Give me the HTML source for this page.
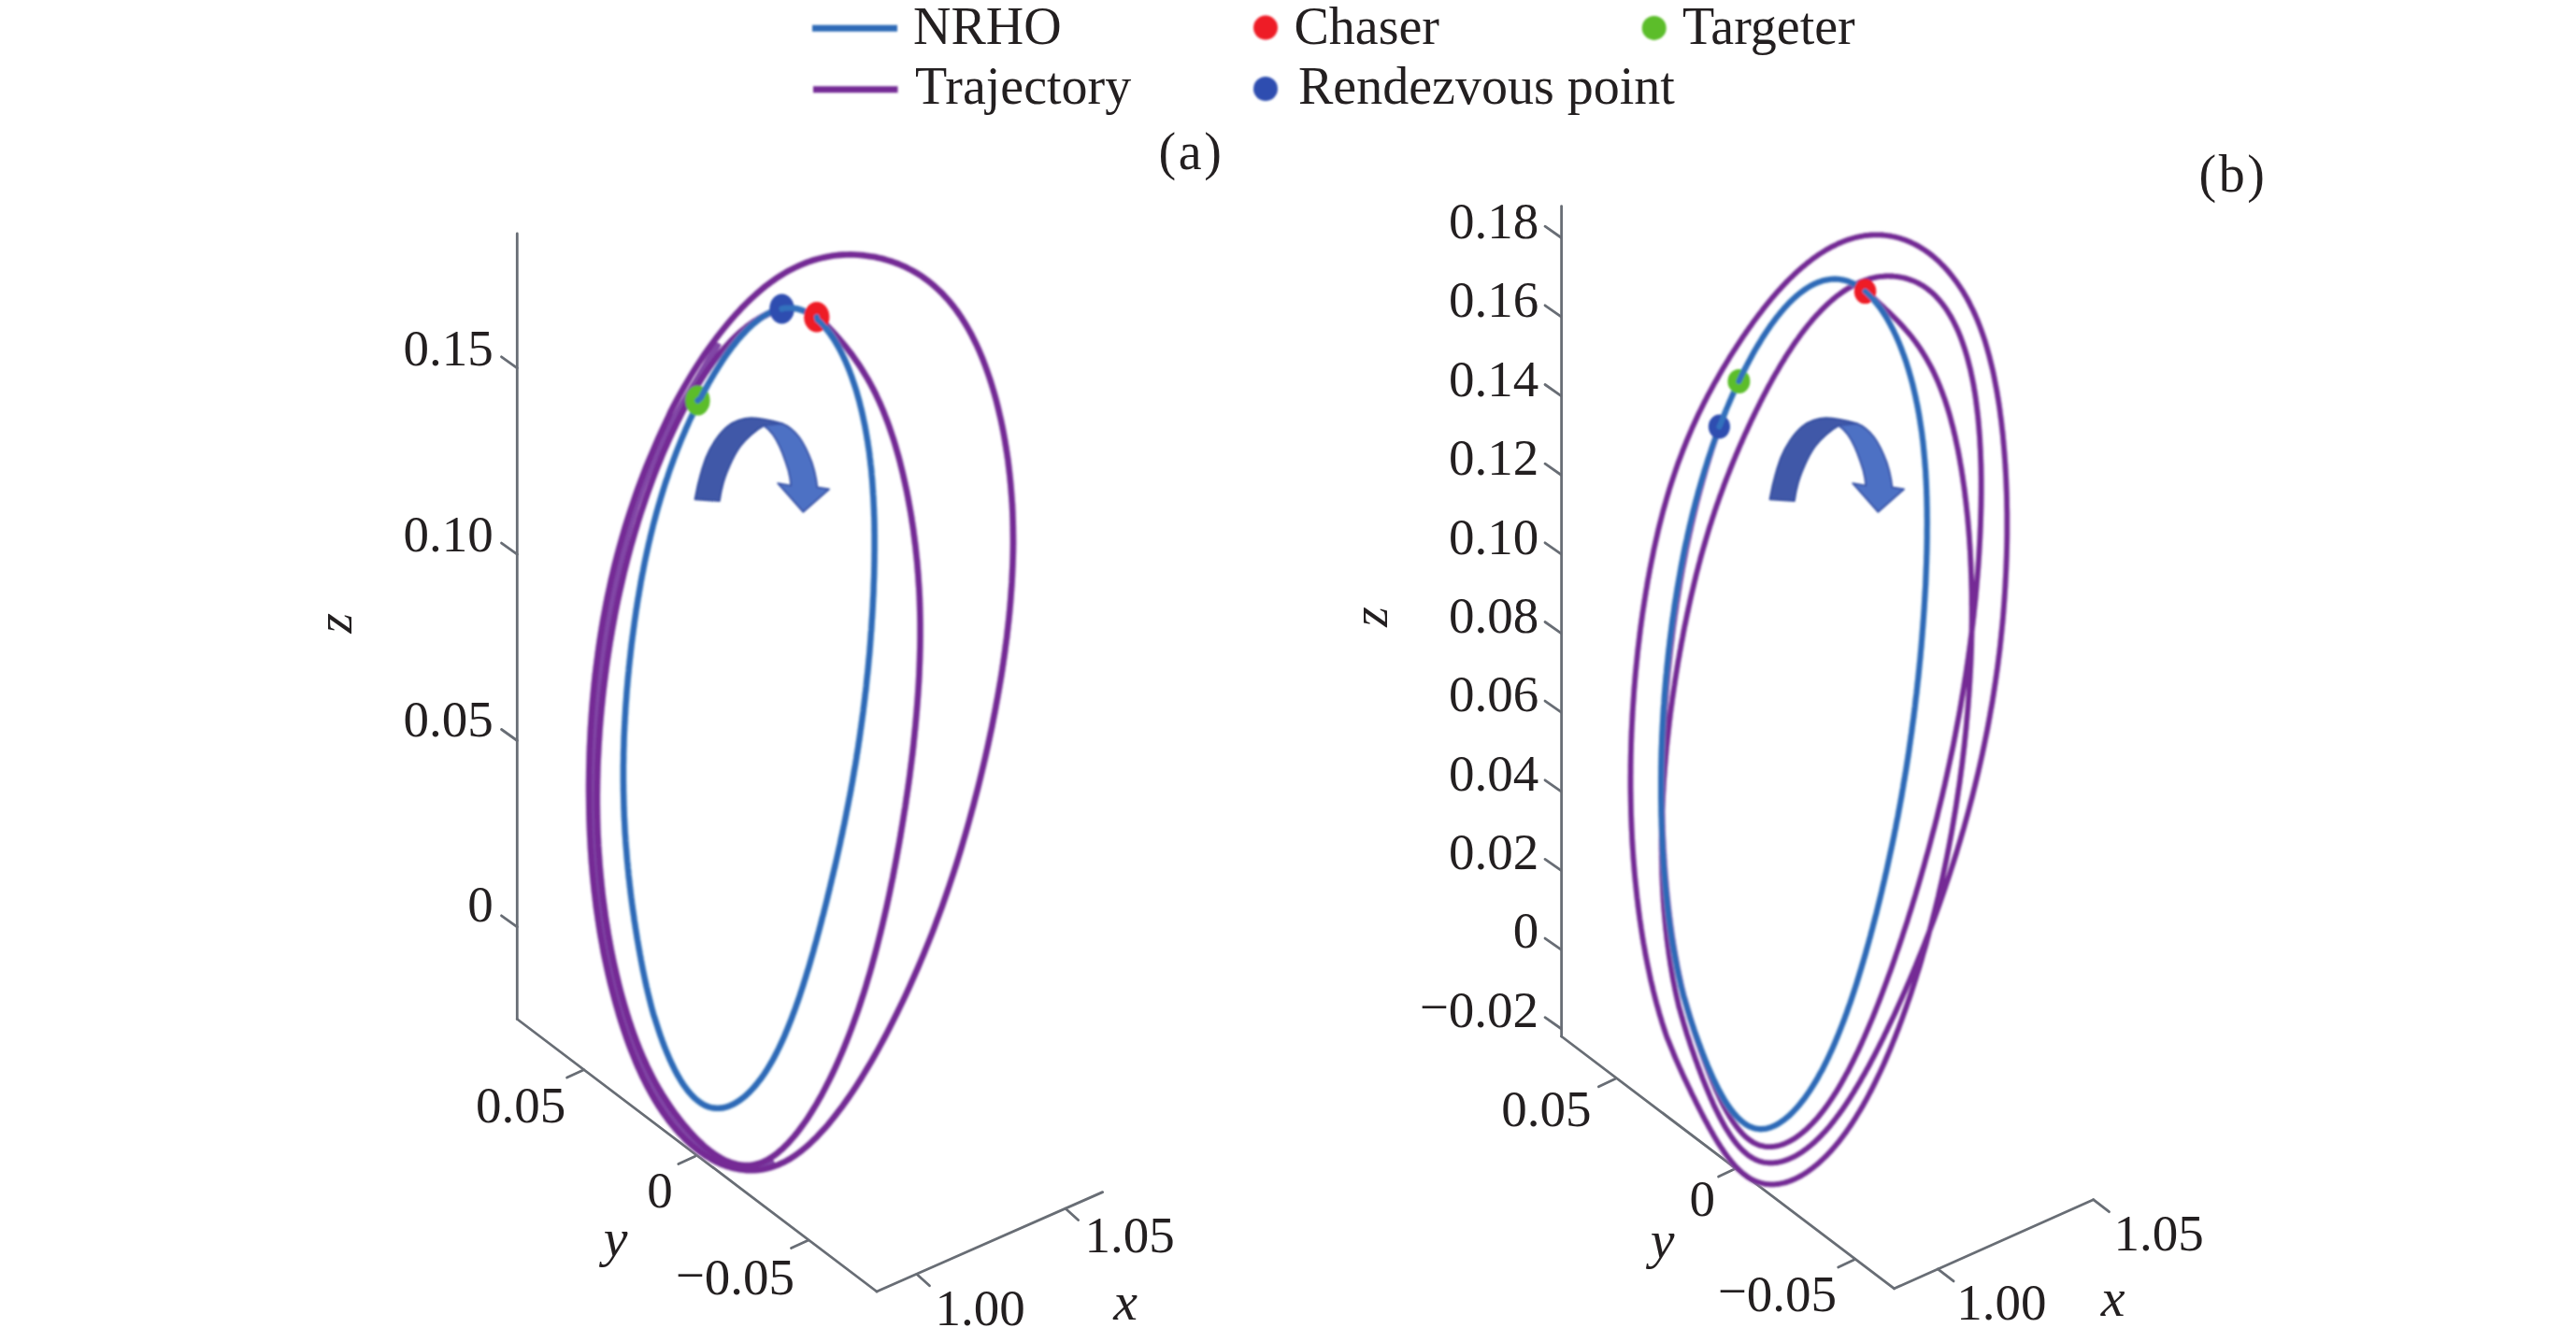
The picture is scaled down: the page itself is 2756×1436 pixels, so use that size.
<!DOCTYPE html>
<html lang="en">
<head>
<meta charset="utf-8">
<title>NRHO rendezvous trajectories</title>
<style>
html,body{margin:0;padding:0;background:#fff;}
body{width:2756px;height:1436px;overflow:hidden;}
svg{display:block;}
svg text{font-family:"Liberation Serif",serif;fill:#231f20;}
</style>
</head>
<body>
<svg width="2756" height="1436" viewBox="0 0 2756 1436" font-size="56">
<defs><filter id="soft" x="-5%" y="-5%" width="110%" height="110%"><feGaussianBlur stdDeviation="1.0"/></filter><filter id="soft2" x="-10%" y="-10%" width="120%" height="120%"><feGaussianBlur stdDeviation="9"/></filter><filter id="soft3" filterUnits="userSpaceOnUse" x="0" y="0" width="2756" height="1436"><feGaussianBlur stdDeviation="0.75"/></filter></defs>
<rect width="2756" height="1436" fill="#ffffff"/>
<g id="axis-lines" filter="url(#soft3)">
<line x1="553.3" y1="250.0" x2="553.3" y2="1090.5" stroke="#686d74" stroke-width="2.8" stroke-linecap="round"/>
<line x1="553.3" y1="1090.5" x2="938.0" y2="1382.0" stroke="#686d74" stroke-width="2.8" stroke-linecap="round"/>
<line x1="938.0" y1="1382.0" x2="1179.6" y2="1275.6" stroke="#686d74" stroke-width="2.8" stroke-linecap="round"/>
<line x1="536.5" y1="381.8" x2="553.3" y2="393.8" stroke="#686d74" stroke-width="2.8" stroke-linecap="round"/>
<line x1="536.5" y1="581.1" x2="553.3" y2="593.1" stroke="#686d74" stroke-width="2.8" stroke-linecap="round"/>
<line x1="536.5" y1="780.5" x2="553.3" y2="792.5" stroke="#686d74" stroke-width="2.8" stroke-linecap="round"/>
<line x1="536.5" y1="979.8" x2="553.3" y2="991.8" stroke="#686d74" stroke-width="2.8" stroke-linecap="round"/>
<line x1="606.6" y1="1153.1" x2="624.6" y2="1144.8" stroke="#686d74" stroke-width="2.8" stroke-linecap="round"/>
<line x1="725.8" y1="1245.5" x2="743.8" y2="1237.2" stroke="#686d74" stroke-width="2.8" stroke-linecap="round"/>
<line x1="846.5" y1="1335.5" x2="864.5" y2="1327.2" stroke="#686d74" stroke-width="2.8" stroke-linecap="round"/>
<line x1="980.9" y1="1363.5" x2="994.5" y2="1375.8" stroke="#686d74" stroke-width="2.8" stroke-linecap="round"/>
<line x1="1140.0" y1="1293.2" x2="1153.6" y2="1305.5" stroke="#686d74" stroke-width="2.8" stroke-linecap="round"/>
<line x1="1670.6" y1="220.6" x2="1670.6" y2="1109.0" stroke="#686d74" stroke-width="2.8" stroke-linecap="round"/>
<line x1="1670.6" y1="1109.0" x2="2026.6" y2="1378.8" stroke="#686d74" stroke-width="2.8" stroke-linecap="round"/>
<line x1="2026.6" y1="1378.8" x2="2239.6" y2="1283.7" stroke="#686d74" stroke-width="2.8" stroke-linecap="round"/>
<line x1="1653.0" y1="242.2" x2="1670.6" y2="254.5" stroke="#686d74" stroke-width="2.8" stroke-linecap="round"/>
<line x1="1653.0" y1="326.8" x2="1670.6" y2="339.1" stroke="#686d74" stroke-width="2.8" stroke-linecap="round"/>
<line x1="1653.0" y1="411.5" x2="1670.6" y2="423.8" stroke="#686d74" stroke-width="2.8" stroke-linecap="round"/>
<line x1="1653.0" y1="496.2" x2="1670.6" y2="508.5" stroke="#686d74" stroke-width="2.8" stroke-linecap="round"/>
<line x1="1653.0" y1="580.8" x2="1670.6" y2="593.1" stroke="#686d74" stroke-width="2.8" stroke-linecap="round"/>
<line x1="1653.0" y1="665.5" x2="1670.6" y2="677.8" stroke="#686d74" stroke-width="2.8" stroke-linecap="round"/>
<line x1="1653.0" y1="750.1" x2="1670.6" y2="762.4" stroke="#686d74" stroke-width="2.8" stroke-linecap="round"/>
<line x1="1653.0" y1="834.8" x2="1670.6" y2="847.1" stroke="#686d74" stroke-width="2.8" stroke-linecap="round"/>
<line x1="1653.0" y1="919.4" x2="1670.6" y2="931.7" stroke="#686d74" stroke-width="2.8" stroke-linecap="round"/>
<line x1="1653.0" y1="1004.1" x2="1670.6" y2="1016.4" stroke="#686d74" stroke-width="2.8" stroke-linecap="round"/>
<line x1="1653.0" y1="1088.7" x2="1670.6" y2="1101.0" stroke="#686d74" stroke-width="2.8" stroke-linecap="round"/>
<line x1="1710.4" y1="1162.8" x2="1728.4" y2="1154.3" stroke="#686d74" stroke-width="2.8" stroke-linecap="round"/>
<line x1="1838.6" y1="1259.1" x2="1856.6" y2="1250.6" stroke="#686d74" stroke-width="2.8" stroke-linecap="round"/>
<line x1="1966.7" y1="1356.0" x2="1984.7" y2="1347.5" stroke="#686d74" stroke-width="2.8" stroke-linecap="round"/>
<line x1="2073.2" y1="1357.9" x2="2090.1" y2="1370.9" stroke="#686d74" stroke-width="2.8" stroke-linecap="round"/>
<line x1="2239.6" y1="1283.7" x2="2256.5" y2="1296.7" stroke="#686d74" stroke-width="2.8" stroke-linecap="round"/>
</g>
<g id="legend">
<g filter="url(#soft)">
<line x1="869" y1="30.3" x2="960" y2="30.3" stroke="#2f6bb7" stroke-width="7"/>
<line x1="870" y1="95.8" x2="960.5" y2="95.8" stroke="#742c95" stroke-width="7"/>
<circle cx="1354" cy="29.6" r="13" fill="#ee1c25"/>
<circle cx="1354" cy="95" r="13" fill="#2f4eb0"/>
<circle cx="1769.7" cy="29.9" r="13" fill="#5bbd2b"/>
</g>
<text x="977.0" y="46.7" text-anchor="start">NRHO</text>
<text x="979.0" y="111.0" text-anchor="start">Trajectory</text>
<text x="1384.5" y="46.7" text-anchor="start">Chaser</text>
<text x="1389.0" y="111.0" text-anchor="start">Rendezvous point</text>
<text x="1800.0" y="46.7" text-anchor="start">Targeter</text>
<text x="1239.5" y="181.0" text-anchor="start" letter-spacing="2.6">(a)</text>
<text x="2352.5" y="204.8" text-anchor="start" letter-spacing="2.6">(b)</text>
</g>
<g id="axes-a" font-size="55">
<text x="527.8" y="391.2" text-anchor="end">0.15</text>
<text x="527.8" y="589.6" text-anchor="end">0.10</text>
<text x="527.8" y="788.0" text-anchor="end">0.05</text>
<text x="527.8" y="986.4" text-anchor="end">0</text>
<text x="605.3" y="1200.8" text-anchor="end">0.05</text>
<text x="719.8" y="1292.3" text-anchor="end">0</text>
<text x="850.0" y="1385.2" text-anchor="end"><tspan dy="-2.3">−</tspan><tspan dy="2.3">0.05</tspan></text>
<text x="1000.6" y="1418.0" text-anchor="start">1.00</text>
<text x="1160.6" y="1339.8" text-anchor="start">1.05</text>
<text x="1204.0" y="1412.0" text-anchor="middle" font-style="italic" font-size="58">x</text>
<text x="658.5" y="1343.5" text-anchor="middle" font-style="italic" font-size="58">y</text>
<text transform="translate(375.5,666.7) rotate(-90)" text-anchor="middle" font-style="italic">z</text>
</g>
<g id="axes-b" font-size="55">
<text x="1646.2" y="255.1" text-anchor="end">0.18</text>
<text x="1646.2" y="339.4" text-anchor="end">0.16</text>
<text x="1646.2" y="423.8" text-anchor="end">0.14</text>
<text x="1646.2" y="508.1" text-anchor="end">0.12</text>
<text x="1646.2" y="592.5" text-anchor="end">0.10</text>
<text x="1646.2" y="676.9" text-anchor="end">0.08</text>
<text x="1646.2" y="761.2" text-anchor="end">0.06</text>
<text x="1646.2" y="845.5" text-anchor="end">0.04</text>
<text x="1646.2" y="929.9" text-anchor="end">0.02</text>
<text x="1646.2" y="1014.2" text-anchor="end">0</text>
<text x="1646.1" y="1098.6" text-anchor="end"><tspan dy="-2.3">−</tspan><tspan dy="2.3">0.02</tspan></text>
<text x="1702.6" y="1205.3" text-anchor="end">0.05</text>
<text x="1835.0" y="1301.3" text-anchor="end">0</text>
<text x="1965.0" y="1402.6" text-anchor="end"><tspan dy="-2.3">−</tspan><tspan dy="2.3">0.05</tspan></text>
<text x="2093.3" y="1411.8" text-anchor="start">1.00</text>
<text x="2261.5" y="1337.5" text-anchor="start">1.05</text>
<text x="2260.5" y="1408.0" text-anchor="middle" font-style="italic" font-size="58">x</text>
<text x="1778.5" y="1346.0" text-anchor="middle" font-style="italic" font-size="58">y</text>
<text transform="translate(1483.6,660) rotate(-90)" text-anchor="middle" font-style="italic">z</text>
</g>
<g id="curves-a" filter="url(#soft)">
<path d="M717.5,440.6 L721.0,433.8 L724.6,427.1 L728.2,420.6 L731.9,414.1 L735.6,407.8 L739.3,401.6 L743.1,395.5 L746.9,389.5 L750.8,383.7 L754.6,377.9 L758.5,372.4 L762.5,366.9 L766.4,361.6 L770.4,356.5 L774.4,351.5 L778.4,346.6 L782.4,341.9 L786.4,337.3 L790.5,332.9 L794.5,328.6 L798.6,324.5 L802.6,320.6 L806.7,316.8 L810.7,313.2 L814.8,309.7 L818.8,306.4 L822.9,303.3 L826.9,300.4 L831.0,297.6 L835.0,295.0 L839.0,292.5 L843.0,290.2 L847.0,288.1 L851.0,286.1 L855.0,284.2 L859.0,282.5 L863.0,280.9 L866.9,279.5 L870.9,278.2 L874.8,277.1 L878.8,276.1 L882.7,275.2 L886.6,274.4 L890.5,273.8 L894.4,273.3 L898.3,272.9 L902.1,272.6 L906.0,272.5 L909.8,272.4 L913.6,272.5 L917.4,272.7 L921.2,273.0 L925.0,273.4 L928.7,273.9 L932.5,274.5 L936.2,275.1 L939.9,275.9 L943.6,276.8 L947.3,277.8 L950.9,278.9 L954.6,280.0 L958.2,281.3 L961.8,282.7 L965.3,284.2 L968.8,285.8 L972.3,287.6 L975.8,289.4 L979.3,291.4 L982.7,293.4 L986.1,295.6 L989.4,298.0 L992.7,300.4 L996.0,303.0 L999.2,305.7 L1002.4,308.6 L1005.6,311.6 L1008.7,314.7 L1011.7,318.0 L1014.8,321.4 L1017.7,324.9 L1020.7,328.6 L1023.6,332.5 L1026.4,336.5 L1029.2,340.7 L1031.9,345.0 L1034.6,349.5 L1037.2,354.1 L1039.8,358.9 L1042.3,363.9 L1044.8,369.0 L1047.2,374.3 L1049.5,379.7 L1051.8,385.3 L1054.0,391.1 L1056.1,397.0 L1058.2,403.0 L1060.2,409.1 L1062.1,415.4 L1064.0,421.9 L1065.8,428.4 L1067.5,435.1 L1069.1,441.9 L1070.7,448.8 L1072.2,455.8 L1073.6,462.9 L1074.9,470.1 L1076.1,477.4 L1077.3,484.9 L1078.4,492.4 L1079.3,500.0 L1080.2,507.7 L1081.0,515.4 L1081.7,523.3 L1082.3,531.2 L1082.9,539.2 L1083.3,547.3 L1083.6,555.4 L1083.8,563.6 L1083.9,571.9 L1084.0,580.2 L1083.9,588.6 L1083.7,597.0 L1083.4,605.4 L1083.0,613.9 L1082.6,622.5 L1082.0,631.0 L1081.4,639.6 L1080.7,648.2 L1079.9,656.9 L1079.0,665.5 L1078.0,674.2 L1077.0,682.9 L1075.8,691.6 L1074.7,700.3 L1073.4,709.0 L1072.1,717.7 L1070.7,726.4 L1069.2,735.1 L1067.7,743.8 L1066.1,752.4 L1064.5,761.1 L1062.8,769.7 L1061.1,778.3 L1059.3,786.8 L1057.5,795.3 L1055.6,803.8 L1053.7,812.3 L1051.7,820.7 L1049.7,829.0 L1047.7,837.3 L1045.6,845.6 L1043.5,853.7 L1041.4,861.9 L1039.2,869.9 L1037.0,878.0 L1034.8,885.9 L1032.5,893.8 L1030.2,901.7 L1027.9,909.5 L1025.5,917.3 L1023.1,925.0 L1020.6,932.7 L1018.1,940.3 L1015.6,947.8 L1013.0,955.4 L1010.4,962.9 L1007.8,970.3 L1005.1,977.7 L1002.3,985.0 L999.6,992.4 L996.8,999.6 L993.9,1006.9 L991.0,1014.0 L988.1,1021.2 L985.1,1028.3 L982.1,1035.4 L979.0,1042.4 L975.9,1049.4 L972.8,1056.4 L969.6,1063.4 L966.3,1070.3 L963.0,1077.2 L959.7,1084.0 L956.3,1090.8 L952.9,1097.6 L949.5,1104.3 L946.0,1110.9 L942.4,1117.5 L938.9,1124.0 L935.3,1130.4 L931.6,1136.8 L927.9,1143.0 L924.2,1149.1 L920.5,1155.2 L916.8,1161.1 L913.0,1166.8 L909.2,1172.5 L905.3,1178.0 L901.5,1183.4 L897.6,1188.6 L893.7,1193.6 L889.8,1198.5 L885.9,1203.3 L882.0,1207.8 L878.0,1212.1 L874.1,1216.3 L870.1,1220.2 L866.2,1224.0 L862.2,1227.5 L858.2,1230.8 L854.2,1233.9 L850.2,1236.7 L846.3,1239.3 L842.3,1241.7 L838.3,1243.8 L834.3,1245.6 L830.4,1247.2 L826.4,1248.6 L822.5,1249.8 L818.5,1250.7 L814.6,1251.4 L810.7,1251.9 L806.8,1252.2 L802.9,1252.3 L799.1,1252.1 L795.3,1251.8 L791.5,1251.3 L787.7,1250.6 L784.0,1249.8 L780.2,1248.7 L776.5,1247.5 L772.9,1246.1 L769.3,1244.6 L765.7,1242.9 L762.2,1241.0 L758.7,1239.0 L755.2,1236.9 L751.8,1234.6 L748.4,1232.2 L745.1,1229.6 L741.8,1226.9 L738.6,1224.2 L735.4,1221.3 L732.3,1218.3 L729.3,1215.1 L726.2,1211.9 L723.3,1208.6 L720.4,1205.2 L717.6,1201.7 L714.8,1198.1 L712.1,1194.4 L709.4,1190.6 L706.8,1186.7 L704.2,1182.8 L701.7,1178.7 L699.2,1174.5 L696.8,1170.3 L694.4,1166.0 L692.1,1161.6 L689.8,1157.1 L687.5,1152.6 L685.4,1147.9 L683.2,1143.2 L681.1,1138.4 L679.1,1133.6 L677.1,1128.6 L675.1,1123.6 L673.2,1118.5 L671.3,1113.4 L669.5,1108.2 L667.7,1102.9 L665.9,1097.6 L664.2,1092.2 L662.5,1086.7 L660.9,1081.2 L659.3,1075.6 L657.7,1069.9 L656.2,1064.2 L654.7,1058.5 L653.2,1052.7 L651.8,1046.8 L650.4,1040.8 L649.1,1034.8 L647.8,1028.8 L646.5,1022.7 L645.3,1016.5 L644.2,1010.2 L643.0,1003.9 L641.9,997.5 L640.9,991.1 L639.9,984.6 L639.0,978.0 L638.0,971.3 L637.2,964.6 L636.4,957.8 L635.6,951.0 L634.9,944.1 L634.2,937.1 L633.6,930.0 L633.0,922.9 L632.5,915.7 L632.0,908.4 L631.6,901.1 L631.2,893.6 L630.9,886.1 L630.6,878.6 L630.4,870.9 L630.3,863.2 L630.2,855.4 L630.1,847.5 L630.1,839.6 L630.2,831.6 L630.3,823.5 L630.5,815.4 L630.7,807.3 L631.0,799.0 L631.4,790.8 L631.8,782.5 L632.3,774.1 L632.9,765.7 L633.5,757.3 L634.2,748.9 L635.0,740.4 L635.8,731.9 L636.7,723.4 L637.7,714.9 L638.8,706.3 L639.9,697.8 L641.1,689.2 L642.4,680.7 L643.8,672.1 L645.2,663.6 L646.8,655.1 L648.4,646.5 L650.1,638.0 L651.9,629.6 L653.7,621.1 L655.7,612.7 L657.7,604.3 L659.9,595.9 L662.1,587.5 L664.4,579.3 L666.8,571.0 L669.2,562.8 L671.8,554.6 L674.4,546.5 L677.1,538.5 L679.8,530.5 L682.6,522.6 L685.5,514.8 L688.5,507.0 L691.5,499.3 L694.6,491.7 L697.8,484.2 L701.0,476.7 L704.2,469.3 L707.5,462.1 L710.9,454.9 L714.3,447.8Z" fill="none" stroke="#d9b6e6" stroke-width="8.8" stroke-opacity="0.4" stroke-linecap="round" stroke-linejoin="round"/>
<path d="M874.0,337.7 L876.7,340.3 L879.3,343.0 L882.0,345.6 L884.6,348.3 L887.2,351.0 L889.8,353.7 L892.3,356.5 L894.9,359.3 L897.4,362.2 L899.9,365.1 L902.4,368.1 L904.9,371.1 L907.3,374.2 L909.8,377.4 L912.2,380.6 L914.5,383.9 L916.9,387.3 L919.2,390.7 L921.5,394.2 L923.8,397.9 L926.0,401.6 L928.3,405.4 L930.5,409.3 L932.6,413.3 L934.8,417.4 L936.9,421.6 L938.9,426.0 L941.0,430.4 L943.0,435.0 L945.0,439.7 L946.9,444.6 L948.8,449.5 L950.7,454.6 L952.5,459.8 L954.3,465.2 L956.1,470.6 L957.8,476.2 L959.4,481.9 L961.1,487.7 L962.7,493.7 L964.2,499.7 L965.7,505.8 L967.1,512.0 L968.5,518.4 L969.9,524.8 L971.2,531.3 L972.4,537.9 L973.6,544.5 L974.8,551.3 L975.8,558.1 L976.9,565.0 L977.8,572.0 L978.7,579.0 L979.6,586.1 L980.3,593.3 L981.1,600.5 L981.7,607.8 L982.3,615.1 L982.8,622.5 L983.3,629.9 L983.7,637.3 L984.0,644.8 L984.2,652.4 L984.4,660.0 L984.5,667.6 L984.5,675.2 L984.5,682.8 L984.4,690.5 L984.2,698.2 L984.0,706.0 L983.7,713.7 L983.4,721.5 L983.0,729.3 L982.5,737.1 L982.0,744.9 L981.4,752.7 L980.8,760.6 L980.1,768.4 L979.4,776.3 L978.6,784.1 L977.8,792.0 L977.0,799.8 L976.1,807.7 L975.1,815.6 L974.1,823.4 L973.1,831.3 L972.0,839.1 L970.9,846.9 L969.7,854.7 L968.6,862.5 L967.3,870.3 L966.1,878.1 L964.8,885.8 L963.5,893.6 L962.2,901.3 L960.8,908.9 L959.4,916.6 L958.0,924.2 L956.5,931.8 L955.1,939.4 L953.5,946.9 L952.0,954.4 L950.4,961.9 L948.8,969.3 L947.1,976.7 L945.4,984.0 L943.7,991.3 L941.9,998.6 L940.1,1005.8 L938.3,1012.9 L936.4,1020.1 L934.5,1027.1 L932.6,1034.1 L930.6,1041.1 L928.5,1048.0 L926.5,1054.9 L924.4,1061.7 L922.2,1068.4 L920.0,1075.1 L917.8,1081.7 L915.5,1088.2 L913.2,1094.7 L910.8,1101.1 L908.4,1107.4 L905.9,1113.7 L903.4,1119.9 L900.9,1126.0 L898.3,1132.0 L895.7,1137.9 L893.0,1143.8 L890.3,1149.5 L887.6,1155.1 L884.8,1160.6 L882.0,1166.0 L879.2,1171.3 L876.3,1176.4 L873.5,1181.4 L870.5,1186.3 L867.6,1191.0 L864.7,1195.6 L861.7,1200.0 L858.7,1204.2 L855.7,1208.3 L852.7,1212.2 L849.7,1215.9 L846.6,1219.4 L843.6,1222.8 L840.5,1225.9 L837.5,1228.9 L834.4,1231.6 L831.4,1234.2 L828.3,1236.5 L825.2,1238.6 L822.2,1240.4 L819.1,1242.1 L816.0,1243.5 L813.0,1244.6 L810.0,1245.5 L806.9,1246.2 L803.9,1246.7 L800.9,1247.0 L797.9,1247.0 L794.9,1246.9 L791.9,1246.6 L789.0,1246.0 L786.0,1245.3 L783.1,1244.5 L780.2,1243.4 L777.3,1242.2 L774.4,1240.9 L771.6,1239.4 L768.7,1237.7 L765.9,1235.9 L763.1,1234.0 L760.3,1232.0 L757.6,1229.8 L754.8,1227.6 L752.1,1225.2 L749.5,1222.7 L746.8,1220.2 L744.2,1217.5 L741.6,1214.8 L739.0,1212.0 L736.5,1209.2 L734.0,1206.2 L731.5,1203.3 L729.1,1200.3 L726.7,1197.2 L724.3,1194.1 L721.9,1191.0 L719.6,1187.8 L717.3,1184.5 L715.1,1181.2 L712.9,1177.8 L710.7,1174.4 L708.5,1171.0 L706.4,1167.4 L704.3,1163.8 L702.2,1160.2 L700.2,1156.5 L698.2,1152.7 L696.2,1148.8 L694.3,1144.9 L692.3,1140.9 L690.5,1136.8 L688.6,1132.7 L686.8,1128.5 L684.9,1124.1 L683.2,1119.8 L681.4,1115.3 L679.7,1110.7 L678.0,1106.1 L676.3,1101.4 L674.7,1096.5 L673.0,1091.6 L671.4,1086.6 L669.9,1081.5 L668.3,1076.3 L666.8,1071.0 L665.3,1065.6 L663.8,1060.1 L662.4,1054.5 L661.0,1048.9 L659.6,1043.1 L658.3,1037.3 L656.9,1031.3 L655.7,1025.3 L654.4,1019.2 L653.2,1013.0 L652.1,1006.7 L650.9,1000.4 L649.9,993.9 L648.8,987.4 L647.8,980.9 L646.9,974.2 L646.0,967.5 L645.1,960.7 L644.3,953.9 L643.6,947.0 L642.9,940.0 L642.2,932.9 L641.6,925.8 L641.1,918.7 L640.6,911.4 L640.1,904.2 L639.8,896.8 L639.4,889.5 L639.2,882.0 L639.0,874.5 L638.9,867.0 L638.8,859.5 L638.8,851.8 L638.9,844.2 L639.0,836.5 L639.2,828.8 L639.4,821.0 L639.7,813.3 L640.1,805.5 L640.5,797.7 L641.0,789.9 L641.5,782.0 L642.1,774.2 L642.8,766.3 L643.5,758.5 L644.3,750.6 L645.1,742.8 L646.0,735.0 L647.0,727.1 L648.0,719.3 L649.0,711.5 L650.1,703.7 L651.3,696.0 L652.5,688.3 L653.8,680.6 L655.1,672.9 L656.5,665.3 L657.9,657.7 L659.4,650.1 L660.9,642.6 L662.5,635.2 L664.2,627.7 L665.9,620.4 L667.6,613.1 L669.4,605.9 L671.2,598.7 L673.1,591.6 L675.0,584.5 L677.0,577.5 L679.0,570.6 L681.1,563.7 L683.1,556.9 L685.3,550.1 L687.5,543.5 L689.7,536.9 L691.9,530.4 L694.2,523.9 L696.5,517.6 L698.8,511.3 L701.2,505.1 L703.6,499.0 L706.1,492.9 L708.5,487.0 L711.0,481.1 L713.6,475.3 L716.1,469.6 L718.7,464.0 L721.3,458.5 L723.9,453.1 L726.6,447.8 L729.2,442.6 L731.9,437.4 L734.6,432.4 L737.3,427.5 L740.1,422.7 L742.8,418.0 L745.6,413.4 L748.4,408.9 L751.2,404.5 L754.0,400.2 L756.9,396.1 L759.7,392.0 L762.6,388.1 L765.5,384.3 L768.4,380.6 L771.3,377.0 L774.2,373.5 L777.2,370.2 L780.2,366.9 L783.1,363.8 L786.1,360.9 L789.2,358.0 L792.2,355.3 L795.2,352.7 L798.3,350.2 L801.3,347.9 L804.4,345.7 L807.5,343.6 L810.6,341.7 L813.7,339.9 L816.9,338.2 L820.0,336.7 L823.1,335.3" fill="none" stroke="#d9b6e6" stroke-width="8.8" stroke-opacity="0.4" stroke-linecap="round" stroke-linejoin="round"/>
<path d="M828.0,1242.4 L824.8,1244.0 L821.7,1245.3 L818.6,1246.5 L815.5,1247.5 L812.5,1248.3 L809.5,1248.9 L806.6,1249.4 L803.7,1249.8 L800.8,1249.9 L797.9,1249.9 L795.1,1249.8 L792.3,1249.5 L789.5,1249.1 L786.8,1248.6 L784.1,1247.9 L781.5,1247.1 L778.8,1246.2 L776.2,1245.2 L773.6,1244.0 L771.1,1242.8 L768.6,1241.5 L766.1,1240.0 L763.6,1238.5 L761.2,1236.9 L758.8,1235.2 L756.4,1233.4 L754.0,1231.6 L751.7,1229.6 L749.4,1227.7 L747.1,1225.6 L744.9,1223.5 L742.6,1221.4 L740.4,1219.2 L738.2,1217.0 L736.1,1214.7 L733.9,1212.4 L731.8,1210.1 L729.7,1207.7 L727.6,1205.3 L725.6,1202.9 L723.6,1200.4 L721.5,1197.9 L719.5,1195.4 L717.6,1192.8 L715.6,1190.1 L713.7,1187.4 L711.8,1184.7 L709.9,1181.9 L708.0,1179.0 L706.1,1176.1 L704.3,1173.2 L702.4,1170.1 L700.6,1167.0 L698.8,1163.8 L697.0,1160.6 L695.2,1157.3 L693.5,1153.9 L691.8,1150.4 L690.0,1146.8 L688.3,1143.2 L686.6,1139.5 L684.9,1135.7 L683.3,1131.8 L681.6,1127.8 L679.9,1123.7 L678.3,1119.5 L676.7,1115.2 L675.1,1110.8 L673.5,1106.3 L671.9,1101.7 L670.3,1097.0 L668.7,1092.2 L667.1,1087.3 L665.6,1082.2 L664.0,1077.1 L662.5,1071.8 L661.0,1066.4 L659.5,1060.9 L658.1,1055.3 L656.6,1049.6 L655.2,1043.8 L653.8,1037.8 L652.5,1031.8 L651.2,1025.7 L649.9,1019.4 L648.6,1013.0 L647.4,1006.6 L646.3,1000.0 L645.1,993.3 L644.1,986.5 L643.0,979.6 L642.0,972.6 L641.1,965.5 L640.2,958.3 L639.4,951.0 L638.6,943.5 L637.9,936.0 L637.2,928.4 L636.6,920.7 L636.1,912.8 L635.6,904.9 L635.3,896.9 L634.9,888.7 L634.7,880.5 L634.5,872.2 L634.4,863.7 L634.4,855.2 L634.5,846.6 L634.6,837.9 L634.8,829.0 L635.1,820.2 L635.5,811.2 L636.0,802.2 L636.5,793.1 L637.1,784.0 L637.8,774.8 L638.5,765.6 L639.4,756.4 L640.2,747.2 L641.2,738.0 L642.2,728.8 L643.3,719.6 L644.5,710.4 L645.7,701.2 L647.0,692.1 L648.4,683.0 L649.8,673.9 L651.3,664.9 L652.8,656.0 L654.4,647.2 L656.1,638.4 L657.8,629.7 L659.5,621.2 L661.4,612.7 L663.2,604.4 L665.2,596.1 L667.1,588.0 L669.2,580.1 L671.2,572.2 L673.4,564.6 L675.5,557.1 L677.8,549.8 L680.0,542.6 L682.3,535.7 L684.7,528.9 L687.0,522.3 L689.5,515.8 L691.9,509.6 L694.4,503.5 L696.9,497.5 L699.4,491.7 L702.0,486.1 L704.6,480.6 L707.2,475.2 L709.8,469.9 L712.4,464.8 L715.0,459.8 L717.6,454.8 L720.2,450.0 L722.8,445.3 L725.5,440.7 L728.1,436.2 L730.7,431.7 L733.3,427.4 L735.8,423.0 L738.4,418.8 L740.9,414.6 L743.4,410.5 L745.9,406.4 L748.3,402.4 L750.7,398.4 L753.1,394.4 L755.5,390.5 L757.7,386.5 L760.0,382.6 L762.2,378.7 L764.4,374.8 L766.5,370.9 L768.5,367.0" fill="none" stroke="#8146a6" stroke-width="7.5" stroke-linecap="butt" stroke-linejoin="round"/>
<path d="M717.5,440.6 L721.0,433.8 L724.6,427.1 L728.2,420.6 L731.9,414.1 L735.6,407.8 L739.3,401.6 L743.1,395.5 L746.9,389.5 L750.8,383.7 L754.6,377.9 L758.5,372.4 L762.5,366.9 L766.4,361.6 L770.4,356.5 L774.4,351.5 L778.4,346.6 L782.4,341.9 L786.4,337.3 L790.5,332.9 L794.5,328.6 L798.6,324.5 L802.6,320.6 L806.7,316.8 L810.7,313.2 L814.8,309.7 L818.8,306.4 L822.9,303.3 L826.9,300.4 L831.0,297.6 L835.0,295.0 L839.0,292.5 L843.0,290.2 L847.0,288.1 L851.0,286.1 L855.0,284.2 L859.0,282.5 L863.0,280.9 L866.9,279.5 L870.9,278.2 L874.8,277.1 L878.8,276.1 L882.7,275.2 L886.6,274.4 L890.5,273.8 L894.4,273.3 L898.3,272.9 L902.1,272.6 L906.0,272.5 L909.8,272.4 L913.6,272.5 L917.4,272.7 L921.2,273.0 L925.0,273.4 L928.7,273.9 L932.5,274.5 L936.2,275.1 L939.9,275.9 L943.6,276.8 L947.3,277.8 L950.9,278.9 L954.6,280.0 L958.2,281.3 L961.8,282.7 L965.3,284.2 L968.8,285.8 L972.3,287.6 L975.8,289.4 L979.3,291.4 L982.7,293.4 L986.1,295.6 L989.4,298.0 L992.7,300.4 L996.0,303.0 L999.2,305.7 L1002.4,308.6 L1005.6,311.6 L1008.7,314.7 L1011.7,318.0 L1014.8,321.4 L1017.7,324.9 L1020.7,328.6 L1023.6,332.5 L1026.4,336.5 L1029.2,340.7 L1031.9,345.0 L1034.6,349.5 L1037.2,354.1 L1039.8,358.9 L1042.3,363.9 L1044.8,369.0 L1047.2,374.3 L1049.5,379.7 L1051.8,385.3 L1054.0,391.1 L1056.1,397.0 L1058.2,403.0 L1060.2,409.1 L1062.1,415.4 L1064.0,421.9 L1065.8,428.4 L1067.5,435.1 L1069.1,441.9 L1070.7,448.8 L1072.2,455.8 L1073.6,462.9 L1074.9,470.1 L1076.1,477.4 L1077.3,484.9 L1078.4,492.4 L1079.3,500.0 L1080.2,507.7 L1081.0,515.4 L1081.7,523.3 L1082.3,531.2 L1082.9,539.2 L1083.3,547.3 L1083.6,555.4 L1083.8,563.6 L1083.9,571.9 L1084.0,580.2 L1083.9,588.6 L1083.7,597.0 L1083.4,605.4 L1083.0,613.9 L1082.6,622.5 L1082.0,631.0 L1081.4,639.6 L1080.7,648.2 L1079.9,656.9 L1079.0,665.5 L1078.0,674.2 L1077.0,682.9 L1075.8,691.6 L1074.7,700.3 L1073.4,709.0 L1072.1,717.7 L1070.7,726.4 L1069.2,735.1 L1067.7,743.8 L1066.1,752.4 L1064.5,761.1 L1062.8,769.7 L1061.1,778.3 L1059.3,786.8 L1057.5,795.3 L1055.6,803.8 L1053.7,812.3 L1051.7,820.7 L1049.7,829.0 L1047.7,837.3 L1045.6,845.6 L1043.5,853.7 L1041.4,861.9 L1039.2,869.9 L1037.0,878.0 L1034.8,885.9 L1032.5,893.8 L1030.2,901.7 L1027.9,909.5 L1025.5,917.3 L1023.1,925.0 L1020.6,932.7 L1018.1,940.3 L1015.6,947.8 L1013.0,955.4 L1010.4,962.9 L1007.8,970.3 L1005.1,977.7 L1002.3,985.0 L999.6,992.4 L996.8,999.6 L993.9,1006.9 L991.0,1014.0 L988.1,1021.2 L985.1,1028.3 L982.1,1035.4 L979.0,1042.4 L975.9,1049.4 L972.8,1056.4 L969.6,1063.4 L966.3,1070.3 L963.0,1077.2 L959.7,1084.0 L956.3,1090.8 L952.9,1097.6 L949.5,1104.3 L946.0,1110.9 L942.4,1117.5 L938.9,1124.0 L935.3,1130.4 L931.6,1136.8 L927.9,1143.0 L924.2,1149.1 L920.5,1155.2 L916.8,1161.1 L913.0,1166.8 L909.2,1172.5 L905.3,1178.0 L901.5,1183.4 L897.6,1188.6 L893.7,1193.6 L889.8,1198.5 L885.9,1203.3 L882.0,1207.8 L878.0,1212.1 L874.1,1216.3 L870.1,1220.2 L866.2,1224.0 L862.2,1227.5 L858.2,1230.8 L854.2,1233.9 L850.2,1236.7 L846.3,1239.3 L842.3,1241.7 L838.3,1243.8 L834.3,1245.6 L830.4,1247.2 L826.4,1248.6 L822.5,1249.8 L818.5,1250.7 L814.6,1251.4 L810.7,1251.9 L806.8,1252.2 L802.9,1252.3 L799.1,1252.1 L795.3,1251.8 L791.5,1251.3 L787.7,1250.6 L784.0,1249.8 L780.2,1248.7 L776.5,1247.5 L772.9,1246.1 L769.3,1244.6 L765.7,1242.9 L762.2,1241.0 L758.7,1239.0 L755.2,1236.9 L751.8,1234.6 L748.4,1232.2 L745.1,1229.6 L741.8,1226.9 L738.6,1224.2 L735.4,1221.3 L732.3,1218.3 L729.3,1215.1 L726.2,1211.9 L723.3,1208.6 L720.4,1205.2 L717.6,1201.7 L714.8,1198.1 L712.1,1194.4 L709.4,1190.6 L706.8,1186.7 L704.2,1182.8 L701.7,1178.7 L699.2,1174.5 L696.8,1170.3 L694.4,1166.0 L692.1,1161.6 L689.8,1157.1 L687.5,1152.6 L685.4,1147.9 L683.2,1143.2 L681.1,1138.4 L679.1,1133.6 L677.1,1128.6 L675.1,1123.6 L673.2,1118.5 L671.3,1113.4 L669.5,1108.2 L667.7,1102.9 L665.9,1097.6 L664.2,1092.2 L662.5,1086.7 L660.9,1081.2 L659.3,1075.6 L657.7,1069.9 L656.2,1064.2 L654.7,1058.5 L653.2,1052.7 L651.8,1046.8 L650.4,1040.8 L649.1,1034.8 L647.8,1028.8 L646.5,1022.7 L645.3,1016.5 L644.2,1010.2 L643.0,1003.9 L641.9,997.5 L640.9,991.1 L639.9,984.6 L639.0,978.0 L638.0,971.3 L637.2,964.6 L636.4,957.8 L635.6,951.0 L634.9,944.1 L634.2,937.1 L633.6,930.0 L633.0,922.9 L632.5,915.7 L632.0,908.4 L631.6,901.1 L631.2,893.6 L630.9,886.1 L630.6,878.6 L630.4,870.9 L630.3,863.2 L630.2,855.4 L630.1,847.5 L630.1,839.6 L630.2,831.6 L630.3,823.5 L630.5,815.4 L630.7,807.3 L631.0,799.0 L631.4,790.8 L631.8,782.5 L632.3,774.1 L632.9,765.7 L633.5,757.3 L634.2,748.9 L635.0,740.4 L635.8,731.9 L636.7,723.4 L637.7,714.9 L638.8,706.3 L639.9,697.8 L641.1,689.2 L642.4,680.7 L643.8,672.1 L645.2,663.6 L646.8,655.1 L648.4,646.5 L650.1,638.0 L651.9,629.6 L653.7,621.1 L655.7,612.7 L657.7,604.3 L659.9,595.9 L662.1,587.5 L664.4,579.3 L666.8,571.0 L669.2,562.8 L671.8,554.6 L674.4,546.5 L677.1,538.5 L679.8,530.5 L682.6,522.6 L685.5,514.8 L688.5,507.0 L691.5,499.3 L694.6,491.7 L697.8,484.2 L701.0,476.7 L704.2,469.3 L707.5,462.1 L710.9,454.9 L714.3,447.8Z" fill="none" stroke="#742c95" stroke-width="6.6" stroke-linecap="round" stroke-linejoin="round"/>
<path d="M874.0,337.7 L876.7,340.3 L879.3,343.0 L882.0,345.6 L884.6,348.3 L887.2,351.0 L889.8,353.7 L892.3,356.5 L894.9,359.3 L897.4,362.2 L899.9,365.1 L902.4,368.1 L904.9,371.1 L907.3,374.2 L909.8,377.4 L912.2,380.6 L914.5,383.9 L916.9,387.3 L919.2,390.7 L921.5,394.2 L923.8,397.9 L926.0,401.6 L928.3,405.4 L930.5,409.3 L932.6,413.3 L934.8,417.4 L936.9,421.6 L938.9,426.0 L941.0,430.4 L943.0,435.0 L945.0,439.7 L946.9,444.6 L948.8,449.5 L950.7,454.6 L952.5,459.8 L954.3,465.2 L956.1,470.6 L957.8,476.2 L959.4,481.9 L961.1,487.7 L962.7,493.7 L964.2,499.7 L965.7,505.8 L967.1,512.0 L968.5,518.4 L969.9,524.8 L971.2,531.3 L972.4,537.9 L973.6,544.5 L974.8,551.3 L975.8,558.1 L976.9,565.0 L977.8,572.0 L978.7,579.0 L979.6,586.1 L980.3,593.3 L981.1,600.5 L981.7,607.8 L982.3,615.1 L982.8,622.5 L983.3,629.9 L983.7,637.3 L984.0,644.8 L984.2,652.4 L984.4,660.0 L984.5,667.6 L984.5,675.2 L984.5,682.8 L984.4,690.5 L984.2,698.2 L984.0,706.0 L983.7,713.7 L983.4,721.5 L983.0,729.3 L982.5,737.1 L982.0,744.9 L981.4,752.7 L980.8,760.6 L980.1,768.4 L979.4,776.3 L978.6,784.1 L977.8,792.0 L977.0,799.8 L976.1,807.7 L975.1,815.6 L974.1,823.4 L973.1,831.3 L972.0,839.1 L970.9,846.9 L969.7,854.7 L968.6,862.5 L967.3,870.3 L966.1,878.1 L964.8,885.8 L963.5,893.6 L962.2,901.3 L960.8,908.9 L959.4,916.6 L958.0,924.2 L956.5,931.8 L955.1,939.4 L953.5,946.9 L952.0,954.4 L950.4,961.9 L948.8,969.3 L947.1,976.7 L945.4,984.0 L943.7,991.3 L941.9,998.6 L940.1,1005.8 L938.3,1012.9 L936.4,1020.1 L934.5,1027.1 L932.6,1034.1 L930.6,1041.1 L928.5,1048.0 L926.5,1054.9 L924.4,1061.7 L922.2,1068.4 L920.0,1075.1 L917.8,1081.7 L915.5,1088.2 L913.2,1094.7 L910.8,1101.1 L908.4,1107.4 L905.9,1113.7 L903.4,1119.9 L900.9,1126.0 L898.3,1132.0 L895.7,1137.9 L893.0,1143.8 L890.3,1149.5 L887.6,1155.1 L884.8,1160.6 L882.0,1166.0 L879.2,1171.3 L876.3,1176.4 L873.5,1181.4 L870.5,1186.3 L867.6,1191.0 L864.7,1195.6 L861.7,1200.0 L858.7,1204.2 L855.7,1208.3 L852.7,1212.2 L849.7,1215.9 L846.6,1219.4 L843.6,1222.8 L840.5,1225.9 L837.5,1228.9 L834.4,1231.6 L831.4,1234.2 L828.3,1236.5 L825.2,1238.6 L822.2,1240.4 L819.1,1242.1 L816.0,1243.5 L813.0,1244.6 L810.0,1245.5 L806.9,1246.2 L803.9,1246.7 L800.9,1247.0 L797.9,1247.0 L794.9,1246.9 L791.9,1246.6 L789.0,1246.0 L786.0,1245.3 L783.1,1244.5 L780.2,1243.4 L777.3,1242.2 L774.4,1240.9 L771.6,1239.4 L768.7,1237.7 L765.9,1235.9 L763.1,1234.0 L760.3,1232.0 L757.6,1229.8 L754.8,1227.6 L752.1,1225.2 L749.5,1222.7 L746.8,1220.2 L744.2,1217.5 L741.6,1214.8 L739.0,1212.0 L736.5,1209.2 L734.0,1206.2 L731.5,1203.3 L729.1,1200.3 L726.7,1197.2 L724.3,1194.1 L721.9,1191.0 L719.6,1187.8 L717.3,1184.5 L715.1,1181.2 L712.9,1177.8 L710.7,1174.4 L708.5,1171.0 L706.4,1167.4 L704.3,1163.8 L702.2,1160.2 L700.2,1156.5 L698.2,1152.7 L696.2,1148.8 L694.3,1144.9 L692.3,1140.9 L690.5,1136.8 L688.6,1132.7 L686.8,1128.5 L684.9,1124.1 L683.2,1119.8 L681.4,1115.3 L679.7,1110.7 L678.0,1106.1 L676.3,1101.4 L674.7,1096.5 L673.0,1091.6 L671.4,1086.6 L669.9,1081.5 L668.3,1076.3 L666.8,1071.0 L665.3,1065.6 L663.8,1060.1 L662.4,1054.5 L661.0,1048.9 L659.6,1043.1 L658.3,1037.3 L656.9,1031.3 L655.7,1025.3 L654.4,1019.2 L653.2,1013.0 L652.1,1006.7 L650.9,1000.4 L649.9,993.9 L648.8,987.4 L647.8,980.9 L646.9,974.2 L646.0,967.5 L645.1,960.7 L644.3,953.9 L643.6,947.0 L642.9,940.0 L642.2,932.9 L641.6,925.8 L641.1,918.7 L640.6,911.4 L640.1,904.2 L639.8,896.8 L639.4,889.5 L639.2,882.0 L639.0,874.5 L638.9,867.0 L638.8,859.5 L638.8,851.8 L638.9,844.2 L639.0,836.5 L639.2,828.8 L639.4,821.0 L639.7,813.3 L640.1,805.5 L640.5,797.7 L641.0,789.9 L641.5,782.0 L642.1,774.2 L642.8,766.3 L643.5,758.5 L644.3,750.6 L645.1,742.8 L646.0,735.0 L647.0,727.1 L648.0,719.3 L649.0,711.5 L650.1,703.7 L651.3,696.0 L652.5,688.3 L653.8,680.6 L655.1,672.9 L656.5,665.3 L657.9,657.7 L659.4,650.1 L660.9,642.6 L662.5,635.2 L664.2,627.7 L665.9,620.4 L667.6,613.1 L669.4,605.9 L671.2,598.7 L673.1,591.6 L675.0,584.5 L677.0,577.5 L679.0,570.6 L681.1,563.7 L683.1,556.9 L685.3,550.1 L687.5,543.5 L689.7,536.9 L691.9,530.4 L694.2,523.9 L696.5,517.6 L698.8,511.3 L701.2,505.1 L703.6,499.0 L706.1,492.9 L708.5,487.0 L711.0,481.1 L713.6,475.3 L716.1,469.6 L718.7,464.0 L721.3,458.5 L723.9,453.1 L726.6,447.8 L729.2,442.6 L731.9,437.4 L734.6,432.4 L737.3,427.5 L740.1,422.7 L742.8,418.0 L745.6,413.4 L748.4,408.9 L751.2,404.5 L754.0,400.2 L756.9,396.1 L759.7,392.0 L762.6,388.1 L765.5,384.3 L768.4,380.6 L771.3,377.0 L774.2,373.5 L777.2,370.2 L780.2,366.9 L783.1,363.8 L786.1,360.9 L789.2,358.0 L792.2,355.3 L795.2,352.7 L798.3,350.2 L801.3,347.9 L804.4,345.7 L807.5,343.6 L810.6,341.7 L813.7,339.9 L816.9,338.2 L820.0,336.7 L823.1,335.3" fill="none" stroke="#742c95" stroke-width="6.6" stroke-linecap="round" stroke-linejoin="round"/>
<path d="M699.9,1087.7 L699.1,1085.2 L698.4,1082.6 L697.7,1080.1 L697.0,1077.5 L696.3,1074.9 L695.7,1072.3 L695.0,1069.6 L694.3,1066.9 L693.7,1064.2 L693.0,1061.5 L692.4,1058.8 L691.7,1056.0 L691.1,1053.3 L690.5,1050.5 L689.9,1047.6 L689.3,1044.8 L688.7,1041.9 L688.1,1039.1 L687.5,1036.1 L686.9,1033.2 L686.4,1030.3 L685.8,1027.3 L685.3,1024.3 L684.7,1021.3 L684.2,1018.3 L683.6,1015.2 L683.1,1012.2 L682.6,1009.1 L682.0,1006.0 L681.5,1002.9 L681.0,999.7 L680.5,996.5 L680.0,993.4 L679.5,990.1 L679.0,986.9 L678.5,983.7 L678.1,980.4 L677.6,977.1 L677.1,973.8 L676.7,970.5 L676.2,967.2 L675.8,963.8 L675.3,960.4 L674.9,957.0 L674.5,953.6 L674.1,950.1 L673.7,946.7 L673.3,943.2 L672.9,939.7 L672.5,936.1 L672.2,932.6 L671.8,929.0 L671.5,925.4 L671.1,921.8 L670.8,918.2 L670.5,914.5 L670.2,910.8 L669.9,907.1 L669.6,903.4 L669.3,899.7 L669.1,895.9 L668.8,892.1 L668.6,888.3 L668.4,884.5 L668.2,880.6 L668.0,876.7 L667.8,872.8 L667.7,868.9 L667.5,865.0 L667.4,861.0 L667.3,857.0 L667.2,853.0 L667.1,849.0 L667.0,844.9 L667.0,840.8 L666.9,836.7 L666.9,832.6 L666.9,828.4 L666.9,824.2 L666.9,820.0 L667.0,815.8 L667.1,811.5 L667.1,807.3 L667.2,803.0 L667.4,798.6 L667.5,794.3 L667.6,789.9 L667.8,785.5 L668.0,781.1 L668.2,776.7 L668.5,772.3 L668.7,767.8 L669.0,763.3 L669.2,758.9 L669.5,754.4 L669.9,749.8 L670.2,745.3 L670.5,740.8 L670.9,736.3 L671.3,731.7 L671.7,727.2 L672.1,722.6 L672.6,718.1 L673.0,713.5 L673.5,709.0 L674.0,704.4 L674.5,699.9 L675.0,695.3 L675.5,690.8 L676.1,686.2 L676.7,681.7 L677.3,677.1 L677.9,672.6 L678.5,668.1 L679.1,663.6 L679.8,659.1 L680.4,654.6 L681.1,650.2 L681.8,645.7 L682.5,641.3 L683.3,636.9 L684.0,632.5 L684.8,628.1 L685.5,623.7 L686.3,619.4 L687.1,615.1 L688.0,610.8 L688.8,606.5 L689.6,602.3 L690.5,598.1 L691.4,593.9 L692.3,589.8 L693.2,585.6 L694.1,581.5 L695.1,577.5 L696.0,573.5 L697.0,569.5 L698.0,565.5 L698.9,561.6 L700.0,557.7 L701.0,553.9 L702.0,550.0 L703.1,546.2 L704.1,542.5 L705.2,538.8 L706.3,535.1 L707.4,531.4 L708.5,527.8 L709.6,524.2 L710.7,520.6 L711.8,517.1 L713.0,513.6 L714.2,510.2 L715.3,506.7 L716.5,503.3 L717.7,499.9 L718.9,496.6 L720.1,493.3 L721.3,490.0 L722.5,486.8 L723.7,483.6 L725.0,480.4 L726.2,477.3 L727.5,474.1 L728.7,471.1 L730.0,468.0 L731.3,465.0 L732.6,462.0 L733.8,459.0 L735.1,456.1 L736.4,453.2 L737.7,450.3 L739.0,447.5 L740.4,444.7 L741.7,441.9 L743.0,439.2 L744.3,436.4 L745.6,433.7 L747.0,431.1 L748.3,428.5 L749.7,425.9 L751.0,423.3 L752.3,420.8 L753.7,418.2 L755.0,415.8 L756.4,413.3 L757.7,410.9 L759.1,408.5 L760.5,406.1 L761.8,403.8 L763.2,401.5 L764.5,399.2 L765.9,397.0 L767.3,394.8 L768.6,392.6 L770.0,390.5 L771.4,388.4 L772.7,386.3 L774.1,384.2 L775.5,382.2 L776.8,380.3 L778.2,378.3 L779.6,376.4 L781.0,374.5 L782.3,372.7 L783.7,370.9 L785.1,369.1 L786.5,367.4 L787.8,365.6 L789.2,364.0 L790.6,362.3 L792.0,360.8 L793.4,359.2 L794.7,357.7 L796.1,356.2 L797.5,354.7 L798.9,353.3 L800.2,352.0 L801.6,350.6 L803.0,349.3 L804.4,348.1 L805.7,346.8 L807.1,345.7 L808.5,344.5 L809.9,343.4 L811.2,342.4 L812.6,341.3 L814.0,340.4 L815.3,339.4 L816.7,338.5 L818.1,337.7 L819.4,336.9 L820.8,336.1 L822.2,335.4 L823.5,334.7 L824.9,334.0 L826.3,333.4 L827.6,332.9 L829.0,332.3 L830.3,331.9 L831.7,331.4 L833.0,331.1 L834.4,330.7 L835.7,330.4 L837.1,330.2 L838.4,329.9 L839.7,329.8 L841.1,329.6 L842.4,329.6 L843.7,329.5 L845.1,329.5 L846.4,329.6 L847.7,329.7 L849.0,329.8 L850.3,330.0 L851.7,330.2 L853.0,330.5 L854.3,330.8 L855.6,331.2 L856.9,331.6 L858.2,332.1 L859.4,332.6 L860.7,333.1 L862.0,333.7 L863.3,334.3 L864.5,335.0 L865.8,335.7 L867.1,336.5 L868.3,337.3 L869.6,338.2 L870.8,339.1 L872.1,340.0 L873.3,341.0 L874.5,342.1 L875.7,343.2 L877.0,344.3 L878.2,345.5 L879.4,346.7 L880.6,348.0 L881.8,349.3 L882.9,350.7 L884.1,352.1 L885.3,353.6 L886.5,355.1 L887.6,356.6 L888.8,358.2 L889.9,359.9 L891.1,361.6 L892.2,363.3 L893.3,365.1 L894.4,366.9 L895.5,368.8 L896.6,370.7 L897.7,372.7 L898.8,374.7 L899.9,376.8 L900.9,378.9 L902.0,381.1 L903.0,383.3 L904.1,385.5 L905.1,387.8 L906.1,390.2 L907.1,392.6 L908.1,395.0 L909.1,397.5 L910.0,400.0 L911.0,402.6 L911.9,405.2 L912.8,407.9 L913.7,410.6 L914.6,413.3 L915.5,416.1 L916.4,418.9 L917.2,421.8 L918.0,424.8 L918.9,427.7 L919.7,430.7 L920.4,433.8 L921.2,436.9 L922.0,440.1 L922.7,443.3 L923.4,446.5 L924.1,449.8 L924.8,453.1 L925.5,456.5 L926.1,459.9 L926.7,463.3 L927.3,466.8 L927.9,470.4 L928.5,473.9 L929.0,477.6 L929.6,481.2 L930.1,484.9 L930.5,488.7 L931.0,492.5 L931.4,496.3 L931.9,500.2 L932.3,504.1 L932.6,508.1 L933.0,512.1 L933.3,516.2 L933.6,520.2 L933.9,524.4 L934.1,528.5 L934.4,532.7 L934.6,536.9 L934.8,541.2 L935.0,545.5 L935.1,549.8 L935.3,554.2 L935.4,558.6 L935.5,563.0 L935.5,567.4 L935.6,571.9 L935.6,576.4 L935.6,580.9 L935.6,585.4 L935.6,589.9 L935.5,594.5 L935.5,599.1 L935.4,603.7 L935.3,608.3 L935.2,612.9 L935.1,617.5 L934.9,622.2 L934.7,626.8 L934.6,631.5 L934.4,636.2 L934.1,640.9 L933.9,645.5 L933.7,650.2 L933.4,654.9 L933.1,659.6 L932.8,664.3 L932.5,669.0 L932.2,673.7 L931.8,678.3 L931.5,683.0 L931.1,687.7 L930.8,692.4 L930.4,697.0 L930.0,701.7 L929.5,706.3 L929.1,710.9 L928.7,715.5 L928.2,720.1 L927.7,724.7 L927.2,729.2 L926.8,733.8 L926.3,738.3 L925.7,742.8 L925.2,747.3 L924.7,751.7 L924.1,756.2 L923.6,760.6 L923.0,765.0 L922.4,769.4 L921.8,773.8 L921.2,778.1 L920.6,782.4 L920.0,786.8 L919.4,791.1 L918.7,795.3 L918.1,799.6 L917.4,803.9 L916.7,808.1 L916.1,812.3 L915.4,816.5 L914.7,820.7 L913.9,824.9 L913.2,829.1 L912.5,833.3 L911.8,837.4 L911.0,841.5 L910.3,845.7 L909.5,849.8 L908.7,853.9 L907.9,858.0 L907.1,862.1 L906.3,866.2 L905.5,870.2 L904.7,874.3 L903.9,878.3 L903.1,882.4 L902.2,886.4 L901.4,890.5 L900.5,894.5 L899.6,898.5 L898.8,902.6 L897.9,906.6 L897.0,910.6 L896.1,914.6 L895.2,918.6 L894.3,922.6 L893.4,926.6 L892.4,930.6 L891.5,934.6 L890.5,938.6 L889.6,942.6 L888.6,946.6 L887.7,950.6 L886.7,954.6 L885.7,958.6 L884.8,962.5 L883.8,966.5 L882.8,970.5 L881.8,974.5 L880.8,978.5 L879.7,982.4 L878.7,986.4 L877.7,990.3 L876.6,994.3 L875.6,998.2 L874.5,1002.1 L873.5,1006.0 L872.4,1009.9 L871.3,1013.7 L870.3,1017.6 L869.2,1021.4 L868.1,1025.2 L867.0,1029.0 L865.9,1032.8 L864.8,1036.5 L863.6,1040.2 L862.5,1043.9 L861.4,1047.6 L860.2,1051.2 L859.1,1054.8 L857.9,1058.4 L856.7,1062.0 L855.6,1065.5 L854.4,1069.0 L853.2,1072.4 L852.0,1075.8 L850.8,1079.2 L849.6,1082.5 L848.3,1085.8 L847.1,1089.1 L845.9,1092.3 L844.6,1095.5 L843.4,1098.6 L842.1,1101.7 L840.8,1104.7 L839.6,1107.7 L838.3,1110.7 L837.0,1113.6 L835.7,1116.4 L834.4,1119.2 L833.1,1121.9 L831.7,1124.6 L830.4,1127.3 L829.1,1129.8 L827.7,1132.4 L826.4,1134.8 L825.0,1137.2 L823.6,1139.6 L822.2,1141.9 L820.9,1144.1 L819.5,1146.3 L818.1,1148.4 L816.7,1150.5 L815.3,1152.5 L813.9,1154.4 L812.4,1156.3 L811.0,1158.1 L809.6,1159.9 L808.2,1161.6 L806.8,1163.3 L805.3,1164.9 L803.9,1166.4 L802.5,1167.9 L801.0,1169.3 L799.6,1170.7 L798.2,1172.0 L796.7,1173.3 L795.3,1174.4 L793.8,1175.6 L792.4,1176.7 L791.0,1177.7 L789.5,1178.6 L788.1,1179.5 L786.7,1180.4 L785.3,1181.1 L783.8,1181.9 L782.4,1182.5 L781.0,1183.1 L779.6,1183.7 L778.2,1184.2 L776.8,1184.6 L775.4,1184.9 L774.0,1185.3 L772.6,1185.5 L771.2,1185.7 L769.8,1185.8 L768.5,1185.9 L767.1,1185.9 L765.8,1185.8 L764.4,1185.7 L763.1,1185.5 L761.7,1185.3 L760.4,1185.0 L759.1,1184.7 L757.8,1184.3 L756.5,1183.8 L755.2,1183.2 L754.0,1182.7 L752.7,1182.0 L751.5,1181.3 L750.2,1180.5 L749.0,1179.7 L747.8,1178.8 L746.6,1177.9 L745.4,1176.9 L744.2,1175.9 L743.0,1174.8 L741.8,1173.7 L740.7,1172.5 L739.5,1171.3 L738.4,1170.0 L737.2,1168.7 L736.1,1167.3 L735.0,1165.9 L733.9,1164.4 L732.8,1162.9 L731.7,1161.4 L730.6,1159.8 L729.6,1158.2 L728.5,1156.5 L727.5,1154.8 L726.5,1153.0 L725.4,1151.3 L724.4,1149.4 L723.4,1147.6 L722.4,1145.7 L721.4,1143.8 L720.5,1141.8 L719.5,1139.8 L718.5,1137.8 L717.6,1135.8 L716.6,1133.7 L715.7,1131.6 L714.8,1129.4 L713.9,1127.3 L713.0,1125.1 L712.1,1122.9 L711.2,1120.6 L710.3,1118.4 L709.5,1116.1 L708.6,1113.8 L707.8,1111.4 L706.9,1109.1 L706.1,1106.7 L705.3,1104.3 L704.5,1101.9 L703.7,1099.5 L702.9,1097.1 L702.1,1094.6 L701.3,1092.1 L700.6,1089.6Z" fill="none" stroke="#9fd0ea" stroke-width="8.6" stroke-opacity="0.4" stroke-linecap="round" stroke-linejoin="round"/>
<path d="M699.9,1087.7 L699.1,1085.2 L698.4,1082.6 L697.7,1080.1 L697.0,1077.5 L696.3,1074.9 L695.7,1072.3 L695.0,1069.6 L694.3,1066.9 L693.7,1064.2 L693.0,1061.5 L692.4,1058.8 L691.7,1056.0 L691.1,1053.3 L690.5,1050.5 L689.9,1047.6 L689.3,1044.8 L688.7,1041.9 L688.1,1039.1 L687.5,1036.1 L686.9,1033.2 L686.4,1030.3 L685.8,1027.3 L685.3,1024.3 L684.7,1021.3 L684.2,1018.3 L683.6,1015.2 L683.1,1012.2 L682.6,1009.1 L682.0,1006.0 L681.5,1002.9 L681.0,999.7 L680.5,996.5 L680.0,993.4 L679.5,990.1 L679.0,986.9 L678.5,983.7 L678.1,980.4 L677.6,977.1 L677.1,973.8 L676.7,970.5 L676.2,967.2 L675.8,963.8 L675.3,960.4 L674.9,957.0 L674.5,953.6 L674.1,950.1 L673.7,946.7 L673.3,943.2 L672.9,939.7 L672.5,936.1 L672.2,932.6 L671.8,929.0 L671.5,925.4 L671.1,921.8 L670.8,918.2 L670.5,914.5 L670.2,910.8 L669.9,907.1 L669.6,903.4 L669.3,899.7 L669.1,895.9 L668.8,892.1 L668.6,888.3 L668.4,884.5 L668.2,880.6 L668.0,876.7 L667.8,872.8 L667.7,868.9 L667.5,865.0 L667.4,861.0 L667.3,857.0 L667.2,853.0 L667.1,849.0 L667.0,844.9 L667.0,840.8 L666.9,836.7 L666.9,832.6 L666.9,828.4 L666.9,824.2 L666.9,820.0 L667.0,815.8 L667.1,811.5 L667.1,807.3 L667.2,803.0 L667.4,798.6 L667.5,794.3 L667.6,789.9 L667.8,785.5 L668.0,781.1 L668.2,776.7 L668.5,772.3 L668.7,767.8 L669.0,763.3 L669.2,758.9 L669.5,754.4 L669.9,749.8 L670.2,745.3 L670.5,740.8 L670.9,736.3 L671.3,731.7 L671.7,727.2 L672.1,722.6 L672.6,718.1 L673.0,713.5 L673.5,709.0 L674.0,704.4 L674.5,699.9 L675.0,695.3 L675.5,690.8 L676.1,686.2 L676.7,681.7 L677.3,677.1 L677.9,672.6 L678.5,668.1 L679.1,663.6 L679.8,659.1 L680.4,654.6 L681.1,650.2 L681.8,645.7 L682.5,641.3 L683.3,636.9 L684.0,632.5 L684.8,628.1 L685.5,623.7 L686.3,619.4 L687.1,615.1 L688.0,610.8 L688.8,606.5 L689.6,602.3 L690.5,598.1 L691.4,593.9 L692.3,589.8 L693.2,585.6 L694.1,581.5 L695.1,577.5 L696.0,573.5 L697.0,569.5 L698.0,565.5 L698.9,561.6 L700.0,557.7 L701.0,553.9 L702.0,550.0 L703.1,546.2 L704.1,542.5 L705.2,538.8 L706.3,535.1 L707.4,531.4 L708.5,527.8 L709.6,524.2 L710.7,520.6 L711.8,517.1 L713.0,513.6 L714.2,510.2 L715.3,506.7 L716.5,503.3 L717.7,499.9 L718.9,496.6 L720.1,493.3 L721.3,490.0 L722.5,486.8 L723.7,483.6 L725.0,480.4 L726.2,477.3 L727.5,474.1 L728.7,471.1 L730.0,468.0 L731.3,465.0 L732.6,462.0 L733.8,459.0 L735.1,456.1 L736.4,453.2 L737.7,450.3 L739.0,447.5 L740.4,444.7 L741.7,441.9 L743.0,439.2 L744.3,436.4 L745.6,433.7 L747.0,431.1 L748.3,428.5 L749.7,425.9 L751.0,423.3 L752.3,420.8 L753.7,418.2 L755.0,415.8 L756.4,413.3 L757.7,410.9 L759.1,408.5 L760.5,406.1 L761.8,403.8 L763.2,401.5 L764.5,399.2 L765.9,397.0 L767.3,394.8 L768.6,392.6 L770.0,390.5 L771.4,388.4 L772.7,386.3 L774.1,384.2 L775.5,382.2 L776.8,380.3 L778.2,378.3 L779.6,376.4 L781.0,374.5 L782.3,372.7 L783.7,370.9 L785.1,369.1 L786.5,367.4 L787.8,365.6 L789.2,364.0 L790.6,362.3 L792.0,360.8 L793.4,359.2 L794.7,357.7 L796.1,356.2 L797.5,354.7 L798.9,353.3 L800.2,352.0 L801.6,350.6 L803.0,349.3 L804.4,348.1 L805.7,346.8 L807.1,345.7 L808.5,344.5 L809.9,343.4 L811.2,342.4 L812.6,341.3 L814.0,340.4 L815.3,339.4 L816.7,338.5 L818.1,337.7 L819.4,336.9 L820.8,336.1 L822.2,335.4 L823.5,334.7 L824.9,334.0 L826.3,333.4 L827.6,332.9 L829.0,332.3 L830.3,331.9 L831.7,331.4 L833.0,331.1 L834.4,330.7 L835.7,330.4 L837.1,330.2 L838.4,329.9 L839.7,329.8 L841.1,329.6 L842.4,329.6 L843.7,329.5 L845.1,329.5 L846.4,329.6 L847.7,329.7 L849.0,329.8 L850.3,330.0 L851.7,330.2 L853.0,330.5 L854.3,330.8 L855.6,331.2 L856.9,331.6 L858.2,332.1 L859.4,332.6 L860.7,333.1 L862.0,333.7 L863.3,334.3 L864.5,335.0 L865.8,335.7 L867.1,336.5 L868.3,337.3 L869.6,338.2 L870.8,339.1 L872.1,340.0 L873.3,341.0 L874.5,342.1 L875.7,343.2 L877.0,344.3 L878.2,345.5 L879.4,346.7 L880.6,348.0 L881.8,349.3 L882.9,350.7 L884.1,352.1 L885.3,353.6 L886.5,355.1 L887.6,356.6 L888.8,358.2 L889.9,359.9 L891.1,361.6 L892.2,363.3 L893.3,365.1 L894.4,366.9 L895.5,368.8 L896.6,370.7 L897.7,372.7 L898.8,374.7 L899.9,376.8 L900.9,378.9 L902.0,381.1 L903.0,383.3 L904.1,385.5 L905.1,387.8 L906.1,390.2 L907.1,392.6 L908.1,395.0 L909.1,397.5 L910.0,400.0 L911.0,402.6 L911.9,405.2 L912.8,407.9 L913.7,410.6 L914.6,413.3 L915.5,416.1 L916.4,418.9 L917.2,421.8 L918.0,424.8 L918.9,427.7 L919.7,430.7 L920.4,433.8 L921.2,436.9 L922.0,440.1 L922.7,443.3 L923.4,446.5 L924.1,449.8 L924.8,453.1 L925.5,456.5 L926.1,459.9 L926.7,463.3 L927.3,466.8 L927.9,470.4 L928.5,473.9 L929.0,477.6 L929.6,481.2 L930.1,484.9 L930.5,488.7 L931.0,492.5 L931.4,496.3 L931.9,500.2 L932.3,504.1 L932.6,508.1 L933.0,512.1 L933.3,516.2 L933.6,520.2 L933.9,524.4 L934.1,528.5 L934.4,532.7 L934.6,536.9 L934.8,541.2 L935.0,545.5 L935.1,549.8 L935.3,554.2 L935.4,558.6 L935.5,563.0 L935.5,567.4 L935.6,571.9 L935.6,576.4 L935.6,580.9 L935.6,585.4 L935.6,589.9 L935.5,594.5 L935.5,599.1 L935.4,603.7 L935.3,608.3 L935.2,612.9 L935.1,617.5 L934.9,622.2 L934.7,626.8 L934.6,631.5 L934.4,636.2 L934.1,640.9 L933.9,645.5 L933.7,650.2 L933.4,654.9 L933.1,659.6 L932.8,664.3 L932.5,669.0 L932.2,673.7 L931.8,678.3 L931.5,683.0 L931.1,687.7 L930.8,692.4 L930.4,697.0 L930.0,701.7 L929.5,706.3 L929.1,710.9 L928.7,715.5 L928.2,720.1 L927.7,724.7 L927.2,729.2 L926.8,733.8 L926.3,738.3 L925.7,742.8 L925.2,747.3 L924.7,751.7 L924.1,756.2 L923.6,760.6 L923.0,765.0 L922.4,769.4 L921.8,773.8 L921.2,778.1 L920.6,782.4 L920.0,786.8 L919.4,791.1 L918.7,795.3 L918.1,799.6 L917.4,803.9 L916.7,808.1 L916.1,812.3 L915.4,816.5 L914.7,820.7 L913.9,824.9 L913.2,829.1 L912.5,833.3 L911.8,837.4 L911.0,841.5 L910.3,845.7 L909.5,849.8 L908.7,853.9 L907.9,858.0 L907.1,862.1 L906.3,866.2 L905.5,870.2 L904.7,874.3 L903.9,878.3 L903.1,882.4 L902.2,886.4 L901.4,890.5 L900.5,894.5 L899.6,898.5 L898.8,902.6 L897.9,906.6 L897.0,910.6 L896.1,914.6 L895.2,918.6 L894.3,922.6 L893.4,926.6 L892.4,930.6 L891.5,934.6 L890.5,938.6 L889.6,942.6 L888.6,946.6 L887.7,950.6 L886.7,954.6 L885.7,958.6 L884.8,962.5 L883.8,966.5 L882.8,970.5 L881.8,974.5 L880.8,978.5 L879.7,982.4 L878.7,986.4 L877.7,990.3 L876.6,994.3 L875.6,998.2 L874.5,1002.1 L873.5,1006.0 L872.4,1009.9 L871.3,1013.7 L870.3,1017.6 L869.2,1021.4 L868.1,1025.2 L867.0,1029.0 L865.9,1032.8 L864.8,1036.5 L863.6,1040.2 L862.5,1043.9 L861.4,1047.6 L860.2,1051.2 L859.1,1054.8 L857.9,1058.4 L856.7,1062.0 L855.6,1065.5 L854.4,1069.0 L853.2,1072.4 L852.0,1075.8 L850.8,1079.2 L849.6,1082.5 L848.3,1085.8 L847.1,1089.1 L845.9,1092.3 L844.6,1095.5 L843.4,1098.6 L842.1,1101.7 L840.8,1104.7 L839.6,1107.7 L838.3,1110.7 L837.0,1113.6 L835.7,1116.4 L834.4,1119.2 L833.1,1121.9 L831.7,1124.6 L830.4,1127.3 L829.1,1129.8 L827.7,1132.4 L826.4,1134.8 L825.0,1137.2 L823.6,1139.6 L822.2,1141.9 L820.9,1144.1 L819.5,1146.3 L818.1,1148.4 L816.7,1150.5 L815.3,1152.5 L813.9,1154.4 L812.4,1156.3 L811.0,1158.1 L809.6,1159.9 L808.2,1161.6 L806.8,1163.3 L805.3,1164.9 L803.9,1166.4 L802.5,1167.9 L801.0,1169.3 L799.6,1170.7 L798.2,1172.0 L796.7,1173.3 L795.3,1174.4 L793.8,1175.6 L792.4,1176.7 L791.0,1177.7 L789.5,1178.6 L788.1,1179.5 L786.7,1180.4 L785.3,1181.1 L783.8,1181.9 L782.4,1182.5 L781.0,1183.1 L779.6,1183.7 L778.2,1184.2 L776.8,1184.6 L775.4,1184.9 L774.0,1185.3 L772.6,1185.5 L771.2,1185.7 L769.8,1185.8 L768.5,1185.9 L767.1,1185.9 L765.8,1185.8 L764.4,1185.7 L763.1,1185.5 L761.7,1185.3 L760.4,1185.0 L759.1,1184.7 L757.8,1184.3 L756.5,1183.8 L755.2,1183.2 L754.0,1182.7 L752.7,1182.0 L751.5,1181.3 L750.2,1180.5 L749.0,1179.7 L747.8,1178.8 L746.6,1177.9 L745.4,1176.9 L744.2,1175.9 L743.0,1174.8 L741.8,1173.7 L740.7,1172.5 L739.5,1171.3 L738.4,1170.0 L737.2,1168.7 L736.1,1167.3 L735.0,1165.9 L733.9,1164.4 L732.8,1162.9 L731.7,1161.4 L730.6,1159.8 L729.6,1158.2 L728.5,1156.5 L727.5,1154.8 L726.5,1153.0 L725.4,1151.3 L724.4,1149.4 L723.4,1147.6 L722.4,1145.7 L721.4,1143.8 L720.5,1141.8 L719.5,1139.8 L718.5,1137.8 L717.6,1135.8 L716.6,1133.7 L715.7,1131.6 L714.8,1129.4 L713.9,1127.3 L713.0,1125.1 L712.1,1122.9 L711.2,1120.6 L710.3,1118.4 L709.5,1116.1 L708.6,1113.8 L707.8,1111.4 L706.9,1109.1 L706.1,1106.7 L705.3,1104.3 L704.5,1101.9 L703.7,1099.5 L702.9,1097.1 L702.1,1094.6 L701.3,1092.1 L700.6,1089.6Z" fill="none" stroke="#2f6bb7" stroke-width="6.4" stroke-linecap="round" stroke-linejoin="round"/>
<ellipse cx="746.4" cy="428.6" rx="13.2" ry="16.0" fill="#5bbd2b"/>
<ellipse cx="836.5" cy="330.5" rx="13.3" ry="16.0" fill="#2f4eb0"/>
<ellipse cx="873.8" cy="339.2" rx="13.6" ry="16.3" fill="#ee1c25"/>
<path d="M746.4,428.6 L749.7,425.9 L751.0,423.3 L752.3,420.8 L753.7,418.2 L755.0,415.8 L756.4,413.3" fill="none" stroke="#3271bd" stroke-width="6.2" stroke-linecap="round" stroke-linejoin="round"/>
<path d="M836.5,330.5 L838.4,329.9 L839.7,329.8 L841.1,329.6 L842.4,329.6 L843.7,329.5 L845.1,329.5 L846.4,329.6 L847.7,329.7 L849.0,329.8 L850.3,330.0 L851.7,330.2 L853.0,330.5 L854.3,330.8 L855.6,331.2" fill="none" stroke="#3271bd" stroke-width="6.2" stroke-linecap="round" stroke-linejoin="round"/>
<path d="M873.8,339.2 L874.5,342.1 L875.7,343.2 L877.0,344.3 L878.2,345.5 L879.4,346.7 L880.6,348.0 L881.8,349.3 L882.9,350.7 L884.1,352.1 L885.3,353.6" fill="none" stroke="#3271bd" stroke-width="6.2" stroke-linecap="round" stroke-linejoin="round"/>
</g>
<g transform="translate(730.0,430.0) scale(0.0969)" stroke-linejoin="round" filter="url(#soft2)">
<path d="M140,1075 C160,960 205,770 260,620 C310,490 410,340 500,270 C580,210 680,180 760,178 C860,180 980,205 1100,240 L900,262 C810,310 700,410 640,490 C560,600 480,790 450,900 C430,970 418,1040 410,1095 Z" fill="#4059a8" stroke="#354d9f" stroke-width="20"/>
<path d="M900,262 L1100,240 C1180,270 1250,340 1290,390 C1350,470 1400,590 1430,670 C1460,760 1482,870 1490,945 L1620,965 L1335,1215 L1055,900 L1200,925 C1196,860 1170,740 1140,660 C1110,570 1050,430 1000,360 C970,320 935,285 900,262 Z" fill="#4e71c4" stroke="#3a55a8" stroke-width="20"/>
</g>
<g id="curves-b" filter="url(#soft)">
<path d="M1995.7,310.6 L1997.0,311.9 L1998.3,313.1 L1999.6,314.3 L2000.9,315.6 L2002.2,316.8 L2003.6,318.1 L2004.9,319.3 L2006.2,320.5 L2007.6,321.8 L2008.9,323.0 L2010.2,324.3 L2011.6,325.5 L2012.9,326.8 L2014.3,328.0 L2015.7,329.3 L2017.0,330.6 L2018.4,331.9 L2019.8,333.2 L2021.2,334.5 L2022.6,335.8 L2024.0,337.2 L2025.4,338.6 L2026.8,340.0 L2028.2,341.4 L2029.6,342.8 L2031.1,344.3 L2032.5,345.8 L2033.9,347.3 L2035.4,348.9 L2036.8,350.5 L2038.2,352.1 L2039.7,353.8 L2041.1,355.5 L2042.6,357.2 L2044.1,359.0 L2045.5,360.8 L2047.0,362.7 L2048.4,364.6 L2049.9,366.6 L2051.4,368.7 L2052.8,370.7 L2054.3,372.9 L2055.7,375.1 L2057.2,377.4 L2058.6,379.7 L2060.1,382.1 L2061.5,384.6 L2062.9,387.1 L2064.3,389.7 L2065.8,392.4 L2067.2,395.1 L2068.6,397.9 L2069.9,400.8 L2071.3,403.8 L2072.7,406.9 L2074.0,410.0 L2075.3,413.2 L2076.6,416.5 L2077.9,419.9 L2079.2,423.4 L2080.5,426.9 L2081.7,430.6 L2082.9,434.3 L2084.1,438.2 L2085.3,442.1 L2086.4,446.1 L2087.5,450.2 L2088.6,454.4 L2089.7,458.6 L2090.7,463.0 L2091.8,467.4 L2092.7,471.9 L2093.7,476.5 L2094.7,481.1 L2095.6,485.9 L2096.5,490.7 L2097.3,495.6 L2098.2,500.5 L2099.0,505.6 L2099.8,510.7 L2100.5,515.8 L2101.3,521.1 L2102.0,526.4 L2102.6,531.8 L2103.3,537.2 L2103.9,542.7 L2104.5,548.3 L2105.1,553.9 L2105.6,559.6 L2106.1,565.4 L2106.6,571.2 L2107.0,577.0 L2107.4,582.9 L2107.8,588.9 L2108.1,594.9 L2108.4,601.0 L2108.7,607.1 L2108.9,613.3 L2109.1,619.5 L2109.3,625.8 L2109.5,632.1 L2109.6,638.5 L2109.6,644.9 L2109.7,651.3 L2109.7,657.7 L2109.7,664.2 L2109.6,670.8 L2109.5,677.3 L2109.3,683.9 L2109.2,690.5 L2109.0,697.2 L2108.7,703.8 L2108.4,710.5 L2108.1,717.2 L2107.7,723.9 L2107.3,730.6 L2106.9,737.4 L2106.4,744.1 L2105.9,750.9 L2105.4,757.6 L2104.8,764.4 L2104.2,771.1 L2103.6,777.9 L2102.9,784.6 L2102.2,791.4 L2101.5,798.1 L2100.7,804.9 L2099.9,811.6 L2099.1,818.3 L2098.2,824.9 L2097.3,831.6 L2096.4,838.3 L2095.4,844.9 L2094.4,851.5 L2093.4,858.1 L2092.4,864.6 L2091.3,871.1 L2090.2,877.6 L2089.1,884.1 L2088.0,890.5 L2086.8,896.9 L2085.6,903.2 L2084.4,909.6 L2083.2,915.8 L2081.9,922.1 L2080.6,928.3 L2079.3,934.5 L2078.0,940.6 L2076.6,946.6 L2075.2,952.7 L2073.9,958.7 L2072.4,964.6 L2071.0,970.5 L2069.6,976.3 L2068.1,982.1 L2066.6,987.9 L2065.1,993.6 L2063.6,999.2 L2062.1,1004.8 L2060.6,1010.4 L2059.0,1015.9 L2057.4,1021.3 L2055.9,1026.7 L2054.3,1032.1 L2052.7,1037.3 L2051.0,1042.6 L2049.4,1047.8 L2047.8,1052.9 L2046.1,1058.0 L2044.5,1063.0 L2042.8,1068.0 L2041.1,1072.9 L2039.4,1077.7 L2037.7,1082.5 L2036.0,1087.3 L2034.3,1092.0 L2032.6,1096.6 L2030.9,1101.2 L2029.1,1105.7 L2027.4,1110.1 L2025.6,1114.5 L2023.9,1118.8 L2022.1,1123.1 L2020.3,1127.3 L2018.5,1131.5 L2016.8,1135.5 L2015.0,1139.6 L2013.2,1143.5 L2011.4,1147.4 L2009.5,1151.3 L2007.7,1155.0 L2005.9,1158.8 L2004.1,1162.4 L2002.3,1166.0 L2000.4,1169.5 L1998.6,1173.0 L1996.8,1176.4 L1994.9,1179.7 L1993.1,1183.0 L1991.2,1186.2 L1989.4,1189.3 L1987.5,1192.3 L1985.7,1195.4 L1983.8,1198.3 L1982.0,1201.2 L1980.1,1204.0 L1978.3,1206.7 L1976.4,1209.4 L1974.6,1212.0 L1972.7,1214.5 L1970.9,1217.0 L1969.0,1219.4 L1967.2,1221.8 L1965.3,1224.0 L1963.5,1226.3 L1961.6,1228.4 L1959.8,1230.5 L1958.0,1232.5 L1956.1,1234.5 L1954.3,1236.4 L1952.5,1238.2 L1950.6,1240.0 L1948.8,1241.7 L1947.0,1243.4 L1945.2,1245.0 L1943.4,1246.5 L1941.5,1248.0 L1939.7,1249.5 L1937.9,1250.8 L1936.1,1252.2 L1934.4,1253.4 L1932.6,1254.6 L1930.8,1255.8 L1929.0,1256.9 L1927.3,1257.9 L1925.5,1258.9 L1923.7,1259.8 L1922.0,1260.7 L1920.2,1261.6 L1918.5,1262.3 L1916.8,1263.0 L1915.0,1263.7 L1913.3,1264.3 L1911.6,1264.9 L1909.9,1265.4 L1908.2,1265.8 L1906.5,1266.2 L1904.8,1266.5 L1903.1,1266.8 L1901.5,1267.0 L1899.8,1267.2 L1898.1,1267.3 L1896.5,1267.4 L1894.8,1267.4 L1893.2,1267.3 L1891.6,1267.2 L1889.9,1267.1 L1888.3,1266.8 L1886.7,1266.5 L1885.1,1266.2 L1883.6,1265.8 L1882.0,1265.3 L1880.4,1264.8 L1878.9,1264.2 L1877.3,1263.6 L1875.8,1262.8 L1874.3,1262.1 L1872.7,1261.2 L1871.2,1260.3 L1869.7,1259.4 L1868.3,1258.3 L1866.8,1257.2 L1865.3,1256.1 L1863.9,1254.9 L1862.5,1253.6 L1861.0,1252.3 L1859.6,1250.9 L1858.2,1249.5 L1856.8,1248.1 L1855.5,1246.6 L1854.1,1245.0 L1852.7,1243.4 L1851.4,1241.7 L1850.1,1240.1 L1848.7,1238.3 L1847.4,1236.6 L1846.1,1234.8 L1844.8,1233.0 L1843.6,1231.1 L1842.3,1229.2 L1841.0,1227.3 L1839.8,1225.4 L1838.5,1223.4 L1837.3,1221.4 L1836.1,1219.4 L1834.9,1217.4 L1833.7,1215.4 L1832.5,1213.3 L1831.3,1211.2 L1830.1,1209.1 L1828.9,1207.0 L1827.7,1204.8 L1826.6,1202.7 L1825.4,1200.5 L1824.2,1198.4 L1823.1,1196.2 L1821.9,1194.0 L1820.8,1191.8 L1819.6,1189.5 L1818.5,1187.3 L1817.4,1185.1 L1816.3,1182.8 L1815.1,1180.6 L1814.0,1178.3 L1812.9,1176.0 L1811.8,1173.8 L1810.6,1171.5 L1809.5,1169.2 L1808.4,1166.8 L1807.3,1164.5 L1806.2,1162.2 L1805.1,1159.9 L1804.0,1157.5 L1802.8,1155.2 L1801.7,1152.8 L1800.6,1150.4 L1799.5,1148.0 L1798.4,1145.5 L1797.3,1143.1 L1796.2,1140.6 L1795.1,1138.1 L1794.0,1135.6 L1792.9,1133.1 L1791.8,1130.5 L1790.7,1127.9 L1789.7,1125.2 L1788.6,1122.6 L1787.5,1119.9 L1786.4,1117.1 L1785.3,1114.4 L1784.2,1111.9 L1783.1,1109.0 L1782.1,1106.1 L1781.1,1103.0 L1780.1,1100.0 L1779.1,1096.9 L1778.1,1093.8 L1777.2,1090.6 L1776.2,1087.4 L1775.2,1084.1 L1774.3,1080.8 L1773.4,1077.5 L1772.4,1074.1 L1771.5,1070.7 L1770.6,1067.2 L1769.7,1063.6 L1768.8,1060.1 L1768.0,1056.5 L1767.1,1052.8 L1766.2,1049.1 L1765.4,1045.3 L1764.6,1041.5 L1763.8,1037.7 L1763.0,1033.8 L1762.2,1029.9 L1761.4,1025.9 L1760.6,1021.9 L1759.9,1017.8 L1759.2,1013.7 L1758.4,1009.5 L1757.7,1005.3 L1757.0,1001.1 L1756.4,996.8 L1755.7,992.4 L1755.1,988.0 L1754.4,983.6 L1753.8,979.1 L1753.2,974.6 L1752.6,970.0 L1752.1,965.4 L1751.5,960.8 L1751.0,956.1 L1750.5,951.3 L1750.0,946.5 L1749.5,941.7 L1749.0,936.8 L1748.6,931.9 L1748.2,926.9 L1747.8,921.9 L1747.4,916.9 L1747.1,911.8 L1746.7,906.6 L1746.4,901.5 L1746.1,896.3 L1745.9,891.0 L1745.6,885.7 L1745.4,880.4 L1745.2,875.0 L1745.0,869.6 L1744.9,864.2 L1744.8,858.7 L1744.7,853.2 L1744.6,847.7 L1744.5,842.1 L1744.5,836.5 L1744.5,830.9 L1744.6,825.3 L1744.6,819.6 L1744.7,813.9 L1744.8,808.2 L1745.0,802.4 L1745.1,796.7 L1745.3,790.9 L1745.5,785.1 L1745.8,779.2 L1746.1,773.4 L1746.4,767.5 L1746.7,761.7 L1747.1,755.8 L1747.5,749.9 L1747.9,744.0 L1748.3,738.1 L1748.8,732.2 L1749.3,726.3 L1749.8,720.4 L1750.4,714.5 L1751.0,708.6 L1751.6,702.7 L1752.2,696.8 L1752.9,690.9 L1753.6,685.1 L1754.3,679.2 L1755.0,673.3 L1755.8,667.5 L1756.6,661.7 L1757.4,655.9 L1758.3,650.1 L1759.2,644.3 L1760.1,638.6 L1761.0,632.9 L1762.0,627.2 L1762.9,621.5 L1764.0,615.9 L1765.0,610.3 L1766.1,604.8 L1767.2,599.2 L1768.3,593.8 L1769.4,588.3 L1770.6,582.9 L1771.8,577.6 L1773.0,572.3 L1774.2,567.0 L1775.5,561.8 L1776.8,556.7 L1778.1,551.6 L1779.4,546.6 L1780.8,541.6 L1782.2,536.7 L1783.6,531.8 L1785.0,527.1 L1786.4,522.3 L1787.9,517.7 L1789.4,513.1 L1790.9,508.6 L1792.4,504.1 L1793.9,499.8 L1795.4,495.4 L1797.0,491.2 L1798.6,487.0 L1800.1,482.9 L1801.7,478.9 L1803.3,474.9 L1804.9,470.9 L1806.5,467.1 L1808.1,463.3 L1809.7,459.6 L1811.3,455.9 L1813.0,452.3 L1814.6,448.8 L1816.2,445.3 L1817.8,441.8 L1819.5,438.5 L1821.1,435.2 L1822.7,431.9 L1824.4,428.7 L1826.0,425.5 L1827.6,422.4 L1829.3,419.3 L1830.9,416.3 L1832.5,413.3 L1834.1,410.4 L1835.8,407.5 L1837.4,404.7 L1839.0,401.8 L1840.6,399.1 L1842.2,396.3 L1843.8,393.6 L1845.4,390.9 L1847.0,388.3 L1848.6,385.7 L1850.1,383.1 L1851.7,380.5 L1853.3,378.0 L1854.9,375.5 L1856.5,373.1 L1858.0,370.7 L1859.6,368.3 L1861.2,365.9 L1862.7,363.6 L1864.3,361.2 L1865.8,358.9 L1867.4,356.7 L1868.9,354.4 L1870.5,352.2 L1872.0,350.0 L1873.6,347.9 L1875.1,345.7 L1876.6,343.6 L1878.2,341.5 L1879.7,339.4 L1881.2,337.4 L1882.8,335.4 L1884.3,333.4 L1885.8,331.4 L1887.4,329.4 L1888.9,327.5 L1890.4,325.6 L1892.0,323.7 L1893.5,321.9 L1895.0,320.0 L1896.5,318.2 L1898.1,316.4 L1899.6,314.7 L1901.1,312.9 L1902.6,311.2 L1904.2,309.5 L1905.7,307.8 L1907.2,306.2 L1908.8,304.5 L1910.3,302.9 L1911.8,301.4 L1913.4,299.8 L1914.9,298.3 L1916.4,296.8 L1918.0,295.3 L1919.5,293.8 L1921.0,292.4 L1922.6,290.9 L1924.1,289.5 L1925.7,288.2 L1927.2,286.8 L1928.8,285.5 L1930.3,284.2 L1931.9,282.9 L1933.4,281.6 L1935.0,280.4 L1936.5,279.2 L1938.1,278.0 L1939.6,276.8 L1941.2,275.7 L1942.8,274.6 L1944.3,273.5 L1945.9,272.4 L1947.5,271.4 L1949.1,270.4 L1950.7,269.4 L1952.2,268.4 L1953.8,267.4 L1955.4,266.5 L1957.0,265.6 L1958.6,264.7 L1960.2,263.9 L1961.8,263.1 L1963.4,262.3 L1965.1,261.5 L1966.7,260.7 L1968.3,260.0 L1969.9,259.3 L1971.6,258.6 L1973.2,258.0 L1974.8,257.4 L1976.5,256.8 L1978.1,256.2 L1979.8,255.7 L1981.4,255.2 L1983.1,254.7 L1984.8,254.3 L1986.4,253.9 L1988.1,253.5 L1989.8,253.1 L1991.5,252.8 L1993.2,252.5 L1994.9,252.2 L1996.6,252.0 L1998.3,251.8 L2000.0,251.6 L2001.7,251.5 L2003.5,251.4 L2005.2,251.3 L2006.9,251.3 L2008.7,251.3 L2010.4,251.3 L2012.2,251.4 L2013.9,251.5 L2015.7,251.7 L2017.5,251.8 L2019.3,252.1 L2021.1,252.3 L2022.8,252.6 L2024.6,253.0 L2026.4,253.3 L2028.3,253.8 L2030.1,254.2 L2031.9,254.7 L2033.7,255.3 L2035.6,255.9 L2037.4,256.5 L2039.3,257.2 L2041.1,258.0 L2043.0,258.7 L2044.8,259.6 L2046.7,260.5 L2048.6,261.4 L2050.5,262.4 L2052.3,263.4 L2054.2,264.5 L2056.1,265.7 L2058.0,266.9 L2059.9,268.2 L2061.8,269.5 L2063.8,270.9 L2065.7,272.4 L2067.6,273.9 L2069.5,275.5 L2071.4,277.2 L2073.4,278.9 L2075.3,280.8 L2077.2,282.7 L2079.1,284.6 L2081.1,286.7 L2083.0,288.8 L2084.9,291.0 L2086.8,293.3 L2088.7,295.7 L2090.6,298.2 L2092.5,300.7 L2094.4,303.4 L2096.3,306.1 L2098.2,309.0 L2100.1,311.9 L2101.9,315.0 L2103.8,318.2 L2105.6,321.5 L2107.4,324.9 L2109.1,328.4 L2110.9,332.0 L2112.6,335.8 L2114.3,339.7 L2116.0,343.7 L2117.6,347.8 L2119.2,352.1 L2120.8,356.5 L2122.4,361.1 L2123.9,365.7 L2125.3,370.5 L2126.7,375.5 L2128.1,380.5 L2129.4,385.7 L2130.7,391.0 L2132.0,396.4 L2133.2,402.0 L2134.3,407.7 L2135.4,413.5 L2136.5,419.4 L2137.5,425.4 L2138.5,431.5 L2139.4,437.7 L2140.2,444.0 L2141.1,450.5 L2141.8,457.0 L2142.6,463.6 L2143.2,470.3 L2143.8,477.1 L2144.4,483.9 L2144.9,490.9 L2145.4,497.9 L2145.8,505.0 L2146.2,512.2 L2146.5,519.5 L2146.8,526.8 L2147.0,534.1 L2147.1,541.6 L2147.3,549.1 L2147.3,556.6 L2147.3,564.2 L2147.3,571.8 L2147.2,579.5 L2147.0,587.2 L2146.8,595.0 L2146.5,602.8 L2146.2,610.6 L2145.8,618.4 L2145.4,626.3 L2144.9,634.2 L2144.4,642.1 L2143.8,650.0 L2143.2,657.9 L2142.5,665.8 L2141.7,673.7 L2140.9,681.6 L2140.1,689.5 L2139.2,697.4 L2138.2,705.2 L2137.2,713.1 L2136.1,720.9 L2135.0,728.7 L2133.8,736.5 L2132.6,744.2 L2131.4,751.9 L2130.0,759.5 L2128.7,767.1 L2127.3,774.6 L2125.9,782.1 L2124.4,789.5 L2122.9,796.9 L2121.4,804.2 L2119.8,811.5 L2118.2,818.6 L2116.6,825.7 L2114.9,832.8 L2113.2,839.7 L2111.5,846.6 L2109.8,853.5 L2108.0,860.2 L2106.3,866.9 L2104.5,873.5 L2102.7,880.0 L2100.9,886.5 L2099.0,892.8 L2097.2,899.1 L2095.3,905.3 L2093.5,911.5 L2091.6,917.5 L2089.7,923.5 L2087.8,929.4 L2085.9,935.3 L2084.0,941.0 L2082.1,946.7 L2080.2,952.3 L2078.3,957.9 L2076.4,963.3 L2074.5,968.7 L2072.6,974.1 L2070.7,979.3 L2068.8,984.5 L2066.8,989.7 L2064.9,994.7 L2063.0,999.7 L2061.1,1004.6 L2059.2,1009.5 L2057.3,1014.3 L2055.4,1019.0 L2053.5,1023.7 L2051.6,1028.3 L2049.8,1032.9 L2047.9,1037.4 L2046.0,1041.9 L2044.1,1046.3 L2042.3,1050.6 L2040.4,1054.9 L2038.6,1059.2 L2036.7,1063.4 L2034.9,1067.5 L2033.0,1071.6 L2031.2,1075.7 L2029.4,1079.7 L2027.6,1083.7 L2025.8,1087.6 L2023.9,1091.5 L2022.1,1095.3 L2020.3,1099.1 L2018.5,1102.9 L2016.7,1106.6 L2015.0,1110.2 L2013.2,1113.8 L2011.4,1117.4 L2009.6,1121.0 L2007.8,1124.5 L2006.1,1127.9 L2004.3,1131.3 L2002.5,1134.7 L2000.8,1138.0 L1999.0,1141.3 L1997.2,1144.5 L1995.5,1147.7 L1993.7,1150.8 L1991.9,1153.9 L1990.2,1157.0 L1988.4,1160.0 L1986.7,1162.9 L1984.9,1165.8 L1983.2,1168.7 L1981.4,1171.5 L1979.7,1174.3 L1977.9,1177.0 L1976.2,1179.7 L1974.4,1182.3 L1972.7,1184.8 L1971.0,1187.4 L1969.2,1189.8 L1967.5,1192.2 L1965.7,1194.6 L1964.0,1196.9 L1962.3,1199.1 L1960.5,1201.3 L1958.8,1203.5 L1957.1,1205.6 L1955.3,1207.6 L1953.6,1209.6 L1951.9,1211.5 L1950.1,1213.3 L1948.4,1215.2 L1946.7,1216.9 L1945.0,1218.6 L1943.3,1220.2 L1941.6,1221.8 L1939.9,1223.4 L1938.1,1224.8 L1936.4,1226.3 L1934.7,1227.6 L1933.1,1229.0 L1931.4,1230.2 L1929.7,1231.4 L1928.0,1232.6 L1926.3,1233.7 L1924.6,1234.7 L1923.0,1235.7 L1921.3,1236.7 L1919.6,1237.6 L1918.0,1238.4 L1916.3,1239.2 L1914.7,1239.9 L1913.1,1240.6 L1911.4,1241.2 L1909.8,1241.8 L1908.2,1242.3 L1906.6,1242.8 L1904.9,1243.2 L1903.3,1243.5 L1901.7,1243.8 L1900.1,1244.0 L1898.6,1244.2 L1897.0,1244.3 L1895.4,1244.4 L1893.8,1244.4 L1892.3,1244.3 L1890.7,1244.2 L1889.2,1244.0 L1887.7,1243.8 L1886.1,1243.5 L1884.6,1243.1 L1883.1,1242.7 L1881.6,1242.2 L1880.1,1241.6 L1878.7,1241.0 L1877.2,1240.3 L1875.7,1239.5 L1874.3,1238.7 L1872.9,1237.8 L1871.4,1236.8 L1870.0,1235.8 L1868.6,1234.7 L1867.3,1233.5 L1865.9,1232.3 L1864.5,1231.0 L1863.2,1229.7 L1861.8,1228.3 L1860.5,1226.8 L1859.2,1225.3 L1857.9,1223.8 L1856.6,1222.2 L1855.3,1220.5 L1854.1,1218.8 L1852.8,1217.0 L1851.6,1215.3 L1850.4,1213.4 L1849.2,1211.5 L1848.0,1209.6 L1846.8,1207.7 L1845.6,1205.7 L1844.4,1203.7 L1843.3,1201.6 L1842.1,1199.5 L1841.0,1197.4 L1839.9,1195.3 L1838.8,1193.1 L1837.7,1190.9 L1836.6,1188.7 L1835.5,1186.4 L1834.4,1184.2 L1833.3,1181.9 L1832.3,1179.6 L1831.3,1177.2 L1830.2,1174.9 L1829.2,1172.5 L1828.2,1170.1 L1827.2,1167.7 L1826.2,1165.3 L1825.2,1162.9 L1824.2,1160.4 L1823.2,1158.0 L1822.2,1155.5 L1821.2,1153.0 L1820.3,1150.5 L1819.3,1148.0 L1818.4,1145.4 L1817.4,1142.9 L1816.5,1140.4 L1815.6,1137.8 L1814.6,1135.2 L1813.7,1132.7 L1812.8,1130.1 L1811.9,1127.5 L1811.0,1124.9 L1810.0,1122.2 L1809.1,1119.6 L1808.2,1116.9 L1807.4,1114.2 L1806.5,1111.5 L1805.6,1108.8 L1804.7,1106.1 L1803.9,1103.3 L1803.0,1100.5 L1802.2,1097.7 L1801.3,1094.8 L1800.5,1092.0 L1799.7,1089.1 L1798.8,1086.1 L1798.0,1083.2 L1797.2,1080.3 L1796.3,1077.5 L1795.6,1074.3 L1794.9,1071.2 L1794.1,1068.0 L1793.4,1064.7 L1792.7,1061.5 L1792.0,1058.1 L1791.4,1054.8 L1790.7,1051.4 L1790.0,1048.0 L1789.4,1044.6 L1788.8,1041.1 L1788.2,1037.6 L1787.6,1034.0 L1787.0,1030.4 L1786.5,1026.8 L1785.9,1023.2 L1785.4,1019.5 L1784.9,1015.7 L1784.4,1012.0 L1783.9,1008.2 L1783.4,1004.4 L1783.0,1000.5 L1782.6,996.7 L1782.1,992.7 L1781.8,988.8 L1781.4,984.8 L1781.0,980.8 L1780.7,976.8 L1780.3,972.7 L1780.0,968.6 L1779.7,964.5 L1779.5,960.4 L1779.2,956.2 L1779.0,952.0 L1778.8,947.8 L1778.6,943.5 L1778.4,939.2 L1778.2,934.9 L1778.1,930.6 L1778.0,926.3 L1777.9,921.9 L1777.8,917.5 L1777.8,913.1 L1777.7,908.7 L1777.7,904.2 L1777.7,899.7 L1777.8,895.3 L1777.8,890.8 L1777.9,886.3 L1778.0,881.7 L1778.1,877.2 L1778.2,872.7 L1778.4,868.1 L1778.6,863.5 L1778.8,859.0 L1779.0,854.4 L1779.2,849.8 L1779.5,845.3 L1779.7,840.7 L1780.0,836.1 L1780.3,831.5 L1780.7,826.9 L1781.0,822.3 L1781.4,817.8 L1781.8,813.2 L1782.2,808.6 L1782.6,804.1 L1783.0,799.5 L1783.5,795.0 L1784.0,790.4 L1784.5,785.9 L1785.0,781.4 L1785.5,776.9 L1786.0,772.4 L1786.6,767.9 L1787.1,763.4 L1787.7,759.0 L1788.3,754.5 L1788.9,750.1 L1789.5,745.7 L1790.2,741.3 L1790.8,736.9 L1791.5,732.6 L1792.1,728.2 L1792.8,723.9 L1793.5,719.6 L1794.2,715.3 L1794.9,711.1 L1795.6,706.8 L1796.4,702.6 L1797.1,698.4 L1797.9,694.2 L1798.6,690.0 L1799.4,685.9 L1800.2,681.8 L1800.9,677.7 L1801.7,673.6 L1802.5,669.5 L1803.4,665.5 L1804.2,661.5 L1805.0,657.5 L1805.9,653.5 L1806.7,649.6 L1807.6,645.7 L1808.4,641.8 L1809.3,637.9 L1810.2,634.1 L1811.1,630.3 L1812.0,626.5 L1812.9,622.7 L1813.8,619.0 L1814.7,615.2 L1815.6,611.6 L1816.6,607.9 L1817.5,604.3 L1818.5,600.7 L1819.4,597.1 L1820.4,593.5 L1821.4,590.0 L1822.4,586.5 L1823.4,583.1 L1824.4,579.6 L1825.4,576.2 L1826.4,572.9 L1827.4,569.5 L1828.4,566.2 L1829.4,562.9 L1830.5,559.7 L1831.5,556.5 L1832.5,553.3 L1833.6,550.1 L1834.6,546.9 L1835.7,543.8 L1836.7,540.7 L1837.8,537.7 L1838.9,534.6 L1839.9,531.6 L1841.0,528.7 L1842.1,525.7 L1843.2,522.8 L1844.2,519.9 L1845.3,517.0 L1846.4,514.1 L1847.5,511.3 L1848.6,508.5 L1849.7,505.7 L1850.8,502.9 L1851.9,500.1 L1853.0,497.4 L1854.1,494.7 L1855.2,492.0 L1856.3,489.4 L1857.4,486.7 L1858.5,484.1 L1859.6,481.5 L1860.7,478.9 L1861.8,476.3 L1863.0,473.8 L1864.1,471.2 L1865.2,468.7 L1866.3,466.2 L1867.4,463.7 L1868.6,461.2 L1869.7,458.8 L1870.8,456.3 L1872.0,453.9 L1873.1,451.4 L1874.2,449.0 L1875.4,446.6 L1876.5,444.3 L1877.7,441.9 L1878.8,439.5 L1880.0,437.2 L1881.1,434.9 L1882.3,432.6 L1883.4,430.2 L1884.6,428.0 L1885.7,425.7 L1886.9,423.4 L1888.1,421.1 L1889.3,418.9 L1890.4,416.7 L1891.6,414.5 L1892.8,412.2 L1894.0,410.1 L1895.2,407.9 L1896.4,405.7 L1897.6,403.5 L1898.8,401.4 L1900.0,399.3 L1901.3,397.2 L1902.5,395.1 L1903.7,393.0 L1904.9,390.9 L1906.2,388.8 L1907.4,386.8 L1908.7,384.8 L1909.9,382.7 L1911.2,380.7 L1912.4,378.7 L1913.7,376.8 L1915.0,374.8 L1916.3,372.9 L1917.5,371.0 L1918.8,369.0 L1920.1,367.1 L1921.4,365.3 L1922.8,363.4 L1924.1,361.6 L1925.4,359.7 L1926.7,357.9 L1928.0,356.1 L1929.4,354.4 L1930.7,352.6 L1932.1,350.9 L1933.4,349.2 L1934.8,347.5 L1936.2,345.8 L1937.6,344.2 L1938.9,342.5 L1940.3,340.9 L1941.7,339.3 L1943.1,337.8 L1944.5,336.2 L1946.0,334.7 L1947.4,333.2 L1948.8,331.7 L1950.3,330.3 L1951.7,328.8 L1953.2,327.4 L1954.6,326.0 L1956.1,324.7 L1957.5,323.4 L1959.0,322.1 L1960.5,320.8 L1962.0,319.5 L1963.5,318.3 L1965.0,317.1 L1966.5,315.9 L1968.1,314.8 L1969.6,313.7 L1971.1,312.6 L1972.7,311.5 L1974.2,310.5 L1975.8,309.5 L1977.4,308.5 L1978.9,307.6 L1980.5,306.7 L1982.1,305.8 L1983.7,305.0 L1985.3,304.2 L1986.9,303.4 L1988.5,302.6 L1990.2,301.9 L1991.8,301.2 L1993.4,300.6 L1995.1,300.0 L1996.8,299.4 L1998.4,298.9 L2000.1,298.4 L2001.8,297.9 L2003.5,297.5 L2005.2,297.1 L2006.9,296.7 L2008.6,296.4 L2010.3,296.2 L2012.1,295.9 L2013.8,295.8 L2015.5,295.6 L2017.3,295.5 L2019.1,295.4 L2020.8,295.4 L2022.6,295.5 L2024.4,295.5 L2026.2,295.7 L2028.0,295.8 L2029.8,296.0 L2031.6,296.3 L2033.4,296.6 L2035.3,297.0 L2037.1,297.4 L2039.0,297.9 L2040.8,298.4 L2042.7,299.0 L2044.5,299.7 L2046.4,300.4 L2048.3,301.1 L2050.2,302.0 L2052.0,302.9 L2053.9,303.9 L2055.8,305.0 L2057.7,306.1 L2059.6,307.4 L2061.5,308.7 L2063.3,310.1 L2065.2,311.6 L2067.1,313.2 L2068.9,314.9 L2070.8,316.7 L2072.6,318.7 L2074.4,320.7 L2076.2,322.8 L2078.0,325.0 L2079.8,327.4 L2081.6,329.9 L2083.3,332.5 L2085.0,335.2 L2086.7,338.0 L2088.4,341.0 L2090.0,344.0 L2091.6,347.2 L2093.2,350.6 L2094.8,354.0 L2096.3,357.6 L2097.8,361.4 L2099.2,365.2 L2100.6,369.2 L2102.0,373.4 L2103.3,377.6 L2104.6,382.0 L2105.8,386.5 L2107.0,391.2 L2108.2,396.0 L2109.2,400.9 L2110.3,406.0 L2111.3,411.1 L2112.2,416.4 L2113.1,421.8 L2113.9,427.4 L2114.6,433.0 L2115.3,438.7 L2116.0,444.5 L2116.6,450.5 L2117.1,456.5 L2117.6,462.6 L2118.1,468.8 L2118.4,475.1 L2118.8,481.5 L2119.0,487.9 L2119.3,494.4 L2119.5,500.9 L2119.6,507.5 L2119.7,514.2 L2119.7,520.9 L2119.7,527.6 L2119.6,534.4 L2119.5,541.2 L2119.3,548.1 L2119.1,554.9 L2118.9,561.8 L2118.6,568.7 L2118.3,575.7 L2117.9,582.6 L2117.5,589.6 L2117.1,596.6 L2116.6,603.5 L2116.1,610.5 L2115.5,617.5 L2114.9,624.5 L2114.3,631.4 L2113.7,638.4 L2113.0,645.3 L2112.2,652.3 L2111.5,659.2 L2110.7,666.1 L2109.9,673.0 L2109.0,679.8 L2108.2,686.7 L2107.3,693.5 L2106.3,700.3 L2105.4,707.0 L2104.4,713.7 L2103.4,720.4 L2102.3,727.1 L2101.3,733.7 L2100.2,740.3 L2099.1,746.8 L2098.0,753.3 L2096.9,759.8 L2095.7,766.2 L2094.5,772.6 L2093.3,778.9 L2092.1,785.2 L2090.9,791.5 L2089.7,797.7 L2088.4,803.8 L2087.1,809.9 L2085.8,816.0 L2084.5,822.0 L2083.2,828.0 L2081.9,833.9 L2080.6,839.8 L2079.2,845.6 L2077.9,851.3 L2076.5,857.1 L2075.1,862.8 L2073.7,868.4 L2072.4,874.0 L2071.0,879.5 L2069.6,885.0 L2068.1,890.4 L2066.7,895.8 L2065.3,901.2 L2063.9,906.5 L2062.5,911.7 L2061.0,916.9 L2059.6,922.1 L2058.2,927.2 L2056.7,932.3 L2055.3,937.3 L2053.8,942.3 L2052.4,947.2 L2050.9,952.1 L2049.5,957.0 L2048.0,961.8 L2046.5,966.6 L2045.1,971.3 L2043.6,976.0 L2042.1,980.7 L2040.7,985.3 L2039.2,989.9 L2037.7,994.4 L2036.2,998.9 L2034.8,1003.4 L2033.3,1007.8 L2031.8,1012.2 L2030.3,1016.6 L2028.8,1020.9 L2027.4,1025.2 L2025.9,1029.5 L2024.4,1033.7 L2022.9,1037.9 L2021.4,1042.0 L2019.9,1046.1 L2018.4,1050.2 L2016.9,1054.3 L2015.4,1058.3 L2013.9,1062.3 L2012.4,1066.2 L2010.9,1070.1 L2009.4,1074.0 L2007.9,1077.8 L2006.4,1081.6 L2004.9,1085.4 L2003.4,1089.1 L2001.8,1092.8 L2000.3,1096.4 L1998.8,1100.0 L1997.2,1103.6 L1995.7,1107.1 L1994.2,1110.6 L1992.6,1114.1 L1991.1,1117.5 L1989.5,1120.9 L1988.0,1124.2 L1986.4,1127.5 L1984.8,1130.7 L1983.3,1133.9 L1981.7,1137.1 L1980.1,1140.2 L1978.6,1143.2 L1977.0,1146.3 L1975.4,1149.2 L1973.8,1152.1 L1972.2,1155.0 L1970.6,1157.8 L1969.1,1160.6 L1967.5,1163.3 L1965.9,1166.0 L1964.3,1168.6 L1962.6,1171.2 L1961.0,1173.7 L1959.4,1176.1 L1957.8,1178.5 L1956.2,1180.8 L1954.6,1183.1 L1953.0,1185.3 L1951.4,1187.5 L1949.7,1189.6 L1948.1,1191.6 L1946.5,1193.6 L1944.9,1195.6 L1943.3,1197.4 L1941.6,1199.2 L1940.0,1201.0 L1938.4,1202.7 L1936.8,1204.3 L1935.2,1205.9 L1933.6,1207.5 L1932.0,1208.9 L1930.3,1210.3 L1928.7,1211.7 L1927.1,1213.0 L1925.5,1214.3 L1923.9,1215.4 L1922.3,1216.6 L1920.7,1217.7 L1919.1,1218.7 L1917.6,1219.6 L1916.0,1220.5 L1914.4,1221.4 L1912.8,1222.2 L1911.2,1222.9 L1909.7,1223.6 L1908.1,1224.2 L1906.6,1224.8 L1905.0,1225.3 L1903.5,1225.7 L1901.9,1226.1 L1900.4,1226.4 L1898.8,1226.7 L1897.3,1226.9 L1895.8,1227.0 L1894.3,1227.1 L1892.8,1227.1 L1891.3,1227.1 L1889.8,1227.0 L1888.3,1226.8 L1886.8,1226.5 L1885.4,1226.2 L1883.9,1225.9 L1882.5,1225.4 L1881.0,1224.9 L1879.6,1224.3 L1878.2,1223.7 L1876.8,1223.0 L1875.4,1222.2 L1874.0,1221.3 L1872.6,1220.4 L1871.3,1219.4 L1869.9,1218.4 L1868.6,1217.3 L1867.3,1216.1 L1865.9,1214.8 L1864.6,1213.5 L1863.4,1212.2 L1862.1,1210.7 L1860.8,1209.3 L1859.6,1207.7 L1858.3,1206.2 L1857.1,1204.5 L1855.9,1202.8 L1854.7,1201.1 L1853.5,1199.4 L1852.3,1197.5 L1851.1,1195.7 L1850.0,1193.8 L1848.9,1191.9 L1847.7,1189.9 L1846.6,1187.9 L1845.5,1185.9 L1844.4,1183.8 L1843.3,1181.7 L1842.2,1179.6 L1841.2,1177.5 L1840.1,1175.3 L1839.1,1173.1 L1838.1,1170.9 L1837.0,1168.6 L1836.0,1166.3 L1835.0,1164.0 L1834.0,1161.7 L1833.0,1159.4 L1832.1,1157.1 L1831.1,1154.7 L1830.1,1152.3 L1829.2,1149.9 L1828.2,1147.5 L1827.3,1145.1 L1826.4,1142.7 L1825.4,1140.2 L1824.5,1137.7 L1823.6,1135.3 L1822.7,1132.8 L1821.8,1130.3 L1820.9,1127.8 L1820.0,1125.3 L1819.1,1122.7 L1818.3,1120.2 L1817.4,1117.7 L1816.5,1115.1 L1815.7,1112.6 L1814.8,1110.0 L1813.9,1107.4 L1813.1,1104.8 L1812.2,1102.2 L1811.4,1099.6 L1810.6,1096.9 L1809.7,1094.3 L1808.9,1091.6 L1808.1,1088.9 L1807.3,1086.2 L1806.5,1083.4 L1805.7,1080.7 L1804.9,1077.9 L1804.1,1075.1 L1803.3,1072.2 L1802.6,1069.4 L1801.7,1066.7 L1801.0,1063.9 L1800.2,1060.9 L1799.5,1057.8 L1798.8,1054.8 L1798.1,1051.7 L1797.5,1048.6 L1796.8,1045.4 L1796.1,1042.2 L1795.5,1039.0 L1794.8,1035.8 L1794.2,1032.5 L1793.6,1029.3 L1793.0,1025.9 L1792.4,1022.6 L1791.8,1019.2 L1791.2,1015.8 L1790.7,1012.4 L1790.1,1008.9 L1789.6,1005.4 L1789.0,1001.9 L1788.5,998.4 L1788.0,994.8 L1787.5,991.2 L1787.0,987.6 L1786.6,983.9 L1786.1,980.3 L1785.7,976.6 L1785.2,972.8 L1784.8,969.1 L1784.4,965.3 L1784.0,961.5 L1783.6,957.7 L1783.2,953.8 L1782.8,949.9 L1782.5,946.0 L1782.2,942.1 L1781.8,938.1 L1781.5,934.2 L1781.2,930.2 L1780.9,926.1 L1780.7,922.1 L1780.4,918.0 L1780.2,913.9 L1779.9,909.8 L1779.7,905.6 L1779.5,901.4 L1779.3,897.3 L1779.1,893.0 L1779.0,888.8 L1778.8,884.5 L1778.7,880.3 L1778.6,876.0 L1778.5,871.6 L1778.4,867.3 L1778.4,862.9 L1778.3,858.5 L1778.3,854.1 L1778.3,849.7 L1778.3,845.3 L1778.3,840.8 L1778.3,836.4 L1778.3,831.9 L1778.4,827.4 L1778.5,822.8 L1778.6,818.3 L1778.7,813.8 L1778.8,809.2 L1779.0,804.6 L1779.2,800.0 L1779.3,795.5 L1779.5,790.8 L1779.8,786.2 L1780.0,781.6 L1780.2,777.0 L1780.5,772.3 L1780.8,767.7 L1781.1,763.0 L1781.4,758.4 L1781.7,753.7 L1782.1,749.1 L1782.5,744.4 L1782.8,739.7 L1783.2,735.0 L1783.7,730.4 L1784.1,725.7 L1784.5,721.0 L1785.0,716.3 L1785.5,711.6 L1786.0,707.0 L1786.5,702.3 L1787.0,697.6 L1787.5,693.0 L1788.1,688.3 L1788.7,683.6 L1789.2,679.0 L1789.8,674.3 L1790.4,669.7 L1791.1,665.1 L1791.7,660.4 L1792.4,655.8 L1793.1,651.2 L1793.7,646.6 L1794.5,642.0 L1795.2,637.5 L1795.9,632.9 L1796.7,628.4 L1797.4,623.8 L1798.2,619.3 L1799.0,614.8 L1799.8,610.3 L1800.6,605.8 L1801.5,601.4 L1802.3,596.9 L1803.2,592.5 L1804.0,588.1 L1804.9,583.7 L1805.8,579.4 L1806.8,575.1 L1807.7,570.7 L1808.7,566.5 L1809.6,562.2 L1810.6,558.0 L1811.6,553.7 L1812.6,549.6 L1813.6,545.4 L1814.6,541.2 L1815.6,537.1 L1816.7,533.0 L1817.7,529.0 L1818.8,524.9 L1819.9,520.9 L1821.0,517.0 L1822.1,513.0 L1823.2,509.1 L1824.3,505.2 L1825.4,501.3 L1826.5,497.4 L1827.7,493.6 L1828.8,489.8 L1830.0,486.0 L1831.1,482.2 L1832.3,478.5 L1833.5,474.8 L1834.7,471.1 L1835.9,467.5 L1837.1,463.8 L1838.3,460.2 L1839.5,456.6" fill="none" stroke="#d9b6e6" stroke-width="8.0" stroke-opacity="0.4" stroke-linecap="round" stroke-linejoin="round"/>
<path d="M1995.7,310.6 L1997.0,311.9 L1998.3,313.1 L1999.6,314.3 L2000.9,315.6 L2002.2,316.8 L2003.6,318.1 L2004.9,319.3 L2006.2,320.5 L2007.6,321.8 L2008.9,323.0 L2010.2,324.3 L2011.6,325.5 L2012.9,326.8 L2014.3,328.0 L2015.7,329.3 L2017.0,330.6 L2018.4,331.9 L2019.8,333.2 L2021.2,334.5 L2022.6,335.8 L2024.0,337.2 L2025.4,338.6 L2026.8,340.0 L2028.2,341.4 L2029.6,342.8 L2031.1,344.3 L2032.5,345.8 L2033.9,347.3 L2035.4,348.9 L2036.8,350.5 L2038.2,352.1 L2039.7,353.8 L2041.1,355.5 L2042.6,357.2 L2044.1,359.0 L2045.5,360.8 L2047.0,362.7 L2048.4,364.6 L2049.9,366.6 L2051.4,368.7 L2052.8,370.7 L2054.3,372.9 L2055.7,375.1 L2057.2,377.4 L2058.6,379.7 L2060.1,382.1 L2061.5,384.6 L2062.9,387.1 L2064.3,389.7 L2065.8,392.4 L2067.2,395.1 L2068.6,397.9 L2069.9,400.8 L2071.3,403.8 L2072.7,406.9 L2074.0,410.0 L2075.3,413.2 L2076.6,416.5 L2077.9,419.9 L2079.2,423.4 L2080.5,426.9 L2081.7,430.6 L2082.9,434.3 L2084.1,438.2 L2085.3,442.1 L2086.4,446.1 L2087.5,450.2 L2088.6,454.4 L2089.7,458.6 L2090.7,463.0 L2091.8,467.4 L2092.7,471.9 L2093.7,476.5 L2094.7,481.1 L2095.6,485.9 L2096.5,490.7 L2097.3,495.6 L2098.2,500.5 L2099.0,505.6 L2099.8,510.7 L2100.5,515.8 L2101.3,521.1 L2102.0,526.4 L2102.6,531.8 L2103.3,537.2 L2103.9,542.7 L2104.5,548.3 L2105.1,553.9 L2105.6,559.6 L2106.1,565.4 L2106.6,571.2 L2107.0,577.0 L2107.4,582.9 L2107.8,588.9 L2108.1,594.9 L2108.4,601.0 L2108.7,607.1 L2108.9,613.3 L2109.1,619.5 L2109.3,625.8 L2109.5,632.1 L2109.6,638.5 L2109.6,644.9 L2109.7,651.3 L2109.7,657.7 L2109.7,664.2 L2109.6,670.8 L2109.5,677.3 L2109.3,683.9 L2109.2,690.5 L2109.0,697.2 L2108.7,703.8 L2108.4,710.5 L2108.1,717.2 L2107.7,723.9 L2107.3,730.6 L2106.9,737.4 L2106.4,744.1 L2105.9,750.9 L2105.4,757.6 L2104.8,764.4 L2104.2,771.1 L2103.6,777.9 L2102.9,784.6 L2102.2,791.4 L2101.5,798.1 L2100.7,804.9 L2099.9,811.6 L2099.1,818.3 L2098.2,824.9 L2097.3,831.6 L2096.4,838.3 L2095.4,844.9 L2094.4,851.5 L2093.4,858.1 L2092.4,864.6 L2091.3,871.1 L2090.2,877.6 L2089.1,884.1 L2088.0,890.5 L2086.8,896.9 L2085.6,903.2 L2084.4,909.6 L2083.2,915.8 L2081.9,922.1 L2080.6,928.3 L2079.3,934.5 L2078.0,940.6 L2076.6,946.6 L2075.2,952.7 L2073.9,958.7 L2072.4,964.6 L2071.0,970.5 L2069.6,976.3 L2068.1,982.1 L2066.6,987.9 L2065.1,993.6 L2063.6,999.2 L2062.1,1004.8 L2060.6,1010.4 L2059.0,1015.9 L2057.4,1021.3 L2055.9,1026.7 L2054.3,1032.1 L2052.7,1037.3 L2051.0,1042.6 L2049.4,1047.8 L2047.8,1052.9 L2046.1,1058.0 L2044.5,1063.0 L2042.8,1068.0 L2041.1,1072.9 L2039.4,1077.7 L2037.7,1082.5 L2036.0,1087.3 L2034.3,1092.0 L2032.6,1096.6 L2030.9,1101.2 L2029.1,1105.7 L2027.4,1110.1 L2025.6,1114.5 L2023.9,1118.8 L2022.1,1123.1 L2020.3,1127.3 L2018.5,1131.5 L2016.8,1135.5 L2015.0,1139.6 L2013.2,1143.5 L2011.4,1147.4 L2009.5,1151.3 L2007.7,1155.0 L2005.9,1158.8 L2004.1,1162.4 L2002.3,1166.0 L2000.4,1169.5 L1998.6,1173.0 L1996.8,1176.4 L1994.9,1179.7 L1993.1,1183.0 L1991.2,1186.2 L1989.4,1189.3 L1987.5,1192.3 L1985.7,1195.4 L1983.8,1198.3 L1982.0,1201.2 L1980.1,1204.0 L1978.3,1206.7 L1976.4,1209.4 L1974.6,1212.0 L1972.7,1214.5 L1970.9,1217.0 L1969.0,1219.4 L1967.2,1221.8 L1965.3,1224.0 L1963.5,1226.3 L1961.6,1228.4 L1959.8,1230.5 L1958.0,1232.5 L1956.1,1234.5 L1954.3,1236.4 L1952.5,1238.2 L1950.6,1240.0 L1948.8,1241.7 L1947.0,1243.4 L1945.2,1245.0 L1943.4,1246.5 L1941.5,1248.0 L1939.7,1249.5 L1937.9,1250.8 L1936.1,1252.2 L1934.4,1253.4 L1932.6,1254.6 L1930.8,1255.8 L1929.0,1256.9 L1927.3,1257.9 L1925.5,1258.9 L1923.7,1259.8 L1922.0,1260.7 L1920.2,1261.6 L1918.5,1262.3 L1916.8,1263.0 L1915.0,1263.7 L1913.3,1264.3 L1911.6,1264.9 L1909.9,1265.4 L1908.2,1265.8 L1906.5,1266.2 L1904.8,1266.5 L1903.1,1266.8 L1901.5,1267.0 L1899.8,1267.2 L1898.1,1267.3 L1896.5,1267.4 L1894.8,1267.4 L1893.2,1267.3 L1891.6,1267.2 L1889.9,1267.1 L1888.3,1266.8 L1886.7,1266.5 L1885.1,1266.2 L1883.6,1265.8 L1882.0,1265.3 L1880.4,1264.8 L1878.9,1264.2 L1877.3,1263.6 L1875.8,1262.8 L1874.3,1262.1 L1872.7,1261.2 L1871.2,1260.3 L1869.7,1259.4 L1868.3,1258.3 L1866.8,1257.2 L1865.3,1256.1 L1863.9,1254.9 L1862.5,1253.6 L1861.0,1252.3 L1859.6,1250.9 L1858.2,1249.5 L1856.8,1248.1 L1855.5,1246.6 L1854.1,1245.0 L1852.7,1243.4 L1851.4,1241.7 L1850.1,1240.1 L1848.7,1238.3 L1847.4,1236.6 L1846.1,1234.8 L1844.8,1233.0 L1843.6,1231.1 L1842.3,1229.2 L1841.0,1227.3 L1839.8,1225.4 L1838.5,1223.4 L1837.3,1221.4 L1836.1,1219.4 L1834.9,1217.4 L1833.7,1215.4 L1832.5,1213.3 L1831.3,1211.2 L1830.1,1209.1 L1828.9,1207.0 L1827.7,1204.8 L1826.6,1202.7 L1825.4,1200.5 L1824.2,1198.4 L1823.1,1196.2 L1821.9,1194.0 L1820.8,1191.8 L1819.6,1189.5 L1818.5,1187.3 L1817.4,1185.1 L1816.3,1182.8 L1815.1,1180.6 L1814.0,1178.3 L1812.9,1176.0 L1811.8,1173.8 L1810.6,1171.5 L1809.5,1169.2 L1808.4,1166.8 L1807.3,1164.5 L1806.2,1162.2 L1805.1,1159.9 L1804.0,1157.5 L1802.8,1155.2 L1801.7,1152.8 L1800.6,1150.4 L1799.5,1148.0 L1798.4,1145.5 L1797.3,1143.1 L1796.2,1140.6 L1795.1,1138.1 L1794.0,1135.6 L1792.9,1133.1 L1791.8,1130.5 L1790.7,1127.9 L1789.7,1125.2 L1788.6,1122.6 L1787.5,1119.9 L1786.4,1117.1 L1785.3,1114.4 L1784.2,1111.9 L1783.1,1109.0 L1782.1,1106.1 L1781.1,1103.0 L1780.1,1100.0 L1779.1,1096.9 L1778.1,1093.8 L1777.2,1090.6 L1776.2,1087.4 L1775.2,1084.1 L1774.3,1080.8 L1773.4,1077.5 L1772.4,1074.1 L1771.5,1070.7 L1770.6,1067.2 L1769.7,1063.6 L1768.8,1060.1 L1768.0,1056.5 L1767.1,1052.8 L1766.2,1049.1 L1765.4,1045.3 L1764.6,1041.5 L1763.8,1037.7 L1763.0,1033.8 L1762.2,1029.9 L1761.4,1025.9 L1760.6,1021.9 L1759.9,1017.8 L1759.2,1013.7 L1758.4,1009.5 L1757.7,1005.3 L1757.0,1001.1 L1756.4,996.8 L1755.7,992.4 L1755.1,988.0 L1754.4,983.6 L1753.8,979.1 L1753.2,974.6 L1752.6,970.0 L1752.1,965.4 L1751.5,960.8 L1751.0,956.1 L1750.5,951.3 L1750.0,946.5 L1749.5,941.7 L1749.0,936.8 L1748.6,931.9 L1748.2,926.9 L1747.8,921.9 L1747.4,916.9 L1747.1,911.8 L1746.7,906.6 L1746.4,901.5 L1746.1,896.3 L1745.9,891.0 L1745.6,885.7 L1745.4,880.4 L1745.2,875.0 L1745.0,869.6 L1744.9,864.2 L1744.8,858.7 L1744.7,853.2 L1744.6,847.7 L1744.5,842.1 L1744.5,836.5 L1744.5,830.9 L1744.6,825.3 L1744.6,819.6 L1744.7,813.9 L1744.8,808.2 L1745.0,802.4 L1745.1,796.7 L1745.3,790.9 L1745.5,785.1 L1745.8,779.2 L1746.1,773.4 L1746.4,767.5 L1746.7,761.7 L1747.1,755.8 L1747.5,749.9 L1747.9,744.0 L1748.3,738.1 L1748.8,732.2 L1749.3,726.3 L1749.8,720.4 L1750.4,714.5 L1751.0,708.6 L1751.6,702.7 L1752.2,696.8 L1752.9,690.9 L1753.6,685.1 L1754.3,679.2 L1755.0,673.3 L1755.8,667.5 L1756.6,661.7 L1757.4,655.9 L1758.3,650.1 L1759.2,644.3 L1760.1,638.6 L1761.0,632.9 L1762.0,627.2 L1762.9,621.5 L1764.0,615.9 L1765.0,610.3 L1766.1,604.8 L1767.2,599.2 L1768.3,593.8 L1769.4,588.3 L1770.6,582.9 L1771.8,577.6 L1773.0,572.3 L1774.2,567.0 L1775.5,561.8 L1776.8,556.7 L1778.1,551.6 L1779.4,546.6 L1780.8,541.6 L1782.2,536.7 L1783.6,531.8 L1785.0,527.1 L1786.4,522.3 L1787.9,517.7 L1789.4,513.1 L1790.9,508.6 L1792.4,504.1 L1793.9,499.8 L1795.4,495.4 L1797.0,491.2 L1798.6,487.0 L1800.1,482.9 L1801.7,478.9 L1803.3,474.9 L1804.9,470.9 L1806.5,467.1 L1808.1,463.3 L1809.7,459.6 L1811.3,455.9 L1813.0,452.3 L1814.6,448.8 L1816.2,445.3 L1817.8,441.8 L1819.5,438.5 L1821.1,435.2 L1822.7,431.9 L1824.4,428.7 L1826.0,425.5 L1827.6,422.4 L1829.3,419.3 L1830.9,416.3 L1832.5,413.3 L1834.1,410.4 L1835.8,407.5 L1837.4,404.7 L1839.0,401.8 L1840.6,399.1 L1842.2,396.3 L1843.8,393.6 L1845.4,390.9 L1847.0,388.3 L1848.6,385.7 L1850.1,383.1 L1851.7,380.5 L1853.3,378.0 L1854.9,375.5 L1856.5,373.1 L1858.0,370.7 L1859.6,368.3 L1861.2,365.9 L1862.7,363.6 L1864.3,361.2 L1865.8,358.9 L1867.4,356.7 L1868.9,354.4 L1870.5,352.2 L1872.0,350.0 L1873.6,347.9 L1875.1,345.7 L1876.6,343.6 L1878.2,341.5 L1879.7,339.4 L1881.2,337.4 L1882.8,335.4 L1884.3,333.4 L1885.8,331.4 L1887.4,329.4 L1888.9,327.5 L1890.4,325.6 L1892.0,323.7 L1893.5,321.9 L1895.0,320.0 L1896.5,318.2 L1898.1,316.4 L1899.6,314.7 L1901.1,312.9 L1902.6,311.2 L1904.2,309.5 L1905.7,307.8 L1907.2,306.2 L1908.8,304.5 L1910.3,302.9 L1911.8,301.4 L1913.4,299.8 L1914.9,298.3 L1916.4,296.8 L1918.0,295.3 L1919.5,293.8 L1921.0,292.4 L1922.6,290.9 L1924.1,289.5 L1925.7,288.2 L1927.2,286.8 L1928.8,285.5 L1930.3,284.2 L1931.9,282.9 L1933.4,281.6 L1935.0,280.4 L1936.5,279.2 L1938.1,278.0 L1939.6,276.8 L1941.2,275.7 L1942.8,274.6 L1944.3,273.5 L1945.9,272.4 L1947.5,271.4 L1949.1,270.4 L1950.7,269.4 L1952.2,268.4 L1953.8,267.4 L1955.4,266.5 L1957.0,265.6 L1958.6,264.7 L1960.2,263.9 L1961.8,263.1 L1963.4,262.3 L1965.1,261.5 L1966.7,260.7 L1968.3,260.0 L1969.9,259.3 L1971.6,258.6 L1973.2,258.0 L1974.8,257.4 L1976.5,256.8 L1978.1,256.2 L1979.8,255.7 L1981.4,255.2 L1983.1,254.7 L1984.8,254.3 L1986.4,253.9 L1988.1,253.5 L1989.8,253.1 L1991.5,252.8 L1993.2,252.5 L1994.9,252.2 L1996.6,252.0 L1998.3,251.8 L2000.0,251.6 L2001.7,251.5 L2003.5,251.4 L2005.2,251.3 L2006.9,251.3 L2008.7,251.3 L2010.4,251.3 L2012.2,251.4 L2013.9,251.5 L2015.7,251.7 L2017.5,251.8 L2019.3,252.1 L2021.1,252.3 L2022.8,252.6 L2024.6,253.0 L2026.4,253.3 L2028.3,253.8 L2030.1,254.2 L2031.9,254.7 L2033.7,255.3 L2035.6,255.9 L2037.4,256.5 L2039.3,257.2 L2041.1,258.0 L2043.0,258.7 L2044.8,259.6 L2046.7,260.5 L2048.6,261.4 L2050.5,262.4 L2052.3,263.4 L2054.2,264.5 L2056.1,265.7 L2058.0,266.9 L2059.9,268.2 L2061.8,269.5 L2063.8,270.9 L2065.7,272.4 L2067.6,273.9 L2069.5,275.5 L2071.4,277.2 L2073.4,278.9 L2075.3,280.8 L2077.2,282.7 L2079.1,284.6 L2081.1,286.7 L2083.0,288.8 L2084.9,291.0 L2086.8,293.3 L2088.7,295.7 L2090.6,298.2 L2092.5,300.7 L2094.4,303.4 L2096.3,306.1 L2098.2,309.0 L2100.1,311.9 L2101.9,315.0 L2103.8,318.2 L2105.6,321.5 L2107.4,324.9 L2109.1,328.4 L2110.9,332.0 L2112.6,335.8 L2114.3,339.7 L2116.0,343.7 L2117.6,347.8 L2119.2,352.1 L2120.8,356.5 L2122.4,361.1 L2123.9,365.7 L2125.3,370.5 L2126.7,375.5 L2128.1,380.5 L2129.4,385.7 L2130.7,391.0 L2132.0,396.4 L2133.2,402.0 L2134.3,407.7 L2135.4,413.5 L2136.5,419.4 L2137.5,425.4 L2138.5,431.5 L2139.4,437.7 L2140.2,444.0 L2141.1,450.5 L2141.8,457.0 L2142.6,463.6 L2143.2,470.3 L2143.8,477.1 L2144.4,483.9 L2144.9,490.9 L2145.4,497.9 L2145.8,505.0 L2146.2,512.2 L2146.5,519.5 L2146.8,526.8 L2147.0,534.1 L2147.1,541.6 L2147.3,549.1 L2147.3,556.6 L2147.3,564.2 L2147.3,571.8 L2147.2,579.5 L2147.0,587.2 L2146.8,595.0 L2146.5,602.8 L2146.2,610.6 L2145.8,618.4 L2145.4,626.3 L2144.9,634.2 L2144.4,642.1 L2143.8,650.0 L2143.2,657.9 L2142.5,665.8 L2141.7,673.7 L2140.9,681.6 L2140.1,689.5 L2139.2,697.4 L2138.2,705.2 L2137.2,713.1 L2136.1,720.9 L2135.0,728.7 L2133.8,736.5 L2132.6,744.2 L2131.4,751.9 L2130.0,759.5 L2128.7,767.1 L2127.3,774.6 L2125.9,782.1 L2124.4,789.5 L2122.9,796.9 L2121.4,804.2 L2119.8,811.5 L2118.2,818.6 L2116.6,825.7 L2114.9,832.8 L2113.2,839.7 L2111.5,846.6 L2109.8,853.5 L2108.0,860.2 L2106.3,866.9 L2104.5,873.5 L2102.7,880.0 L2100.9,886.5 L2099.0,892.8 L2097.2,899.1 L2095.3,905.3 L2093.5,911.5 L2091.6,917.5 L2089.7,923.5 L2087.8,929.4 L2085.9,935.3 L2084.0,941.0 L2082.1,946.7 L2080.2,952.3 L2078.3,957.9 L2076.4,963.3 L2074.5,968.7 L2072.6,974.1 L2070.7,979.3 L2068.8,984.5 L2066.8,989.7 L2064.9,994.7 L2063.0,999.7 L2061.1,1004.6 L2059.2,1009.5 L2057.3,1014.3 L2055.4,1019.0 L2053.5,1023.7 L2051.6,1028.3 L2049.8,1032.9 L2047.9,1037.4 L2046.0,1041.9 L2044.1,1046.3 L2042.3,1050.6 L2040.4,1054.9 L2038.6,1059.2 L2036.7,1063.4 L2034.9,1067.5 L2033.0,1071.6 L2031.2,1075.7 L2029.4,1079.7 L2027.6,1083.7 L2025.8,1087.6 L2023.9,1091.5 L2022.1,1095.3 L2020.3,1099.1 L2018.5,1102.9 L2016.7,1106.6 L2015.0,1110.2 L2013.2,1113.8 L2011.4,1117.4 L2009.6,1121.0 L2007.8,1124.5 L2006.1,1127.9 L2004.3,1131.3 L2002.5,1134.7 L2000.8,1138.0 L1999.0,1141.3 L1997.2,1144.5 L1995.5,1147.7 L1993.7,1150.8 L1991.9,1153.9 L1990.2,1157.0 L1988.4,1160.0 L1986.7,1162.9 L1984.9,1165.8 L1983.2,1168.7 L1981.4,1171.5 L1979.7,1174.3 L1977.9,1177.0 L1976.2,1179.7 L1974.4,1182.3 L1972.7,1184.8 L1971.0,1187.4 L1969.2,1189.8 L1967.5,1192.2 L1965.7,1194.6 L1964.0,1196.9 L1962.3,1199.1 L1960.5,1201.3 L1958.8,1203.5 L1957.1,1205.6 L1955.3,1207.6 L1953.6,1209.6 L1951.9,1211.5 L1950.1,1213.3 L1948.4,1215.2 L1946.7,1216.9 L1945.0,1218.6 L1943.3,1220.2 L1941.6,1221.8 L1939.9,1223.4 L1938.1,1224.8 L1936.4,1226.3 L1934.7,1227.6 L1933.1,1229.0 L1931.4,1230.2 L1929.7,1231.4 L1928.0,1232.6 L1926.3,1233.7 L1924.6,1234.7 L1923.0,1235.7 L1921.3,1236.7 L1919.6,1237.6 L1918.0,1238.4 L1916.3,1239.2 L1914.7,1239.9 L1913.1,1240.6 L1911.4,1241.2 L1909.8,1241.8 L1908.2,1242.3 L1906.6,1242.8 L1904.9,1243.2 L1903.3,1243.5 L1901.7,1243.8 L1900.1,1244.0 L1898.6,1244.2 L1897.0,1244.3 L1895.4,1244.4 L1893.8,1244.4 L1892.3,1244.3 L1890.7,1244.2 L1889.2,1244.0 L1887.7,1243.8 L1886.1,1243.5 L1884.6,1243.1 L1883.1,1242.7 L1881.6,1242.2 L1880.1,1241.6 L1878.7,1241.0 L1877.2,1240.3 L1875.7,1239.5 L1874.3,1238.7 L1872.9,1237.8 L1871.4,1236.8 L1870.0,1235.8 L1868.6,1234.7 L1867.3,1233.5 L1865.9,1232.3 L1864.5,1231.0 L1863.2,1229.7 L1861.8,1228.3 L1860.5,1226.8 L1859.2,1225.3 L1857.9,1223.8 L1856.6,1222.2 L1855.3,1220.5 L1854.1,1218.8 L1852.8,1217.0 L1851.6,1215.3 L1850.4,1213.4 L1849.2,1211.5 L1848.0,1209.6 L1846.8,1207.7 L1845.6,1205.7 L1844.4,1203.7 L1843.3,1201.6 L1842.1,1199.5 L1841.0,1197.4 L1839.9,1195.3 L1838.8,1193.1 L1837.7,1190.9 L1836.6,1188.7 L1835.5,1186.4 L1834.4,1184.2 L1833.3,1181.9 L1832.3,1179.6 L1831.3,1177.2 L1830.2,1174.9 L1829.2,1172.5 L1828.2,1170.1 L1827.2,1167.7 L1826.2,1165.3 L1825.2,1162.9 L1824.2,1160.4 L1823.2,1158.0 L1822.2,1155.5 L1821.2,1153.0 L1820.3,1150.5 L1819.3,1148.0 L1818.4,1145.4 L1817.4,1142.9 L1816.5,1140.4 L1815.6,1137.8 L1814.6,1135.2 L1813.7,1132.7 L1812.8,1130.1 L1811.9,1127.5 L1811.0,1124.9 L1810.0,1122.2 L1809.1,1119.6 L1808.2,1116.9 L1807.4,1114.2 L1806.5,1111.5 L1805.6,1108.8 L1804.7,1106.1 L1803.9,1103.3 L1803.0,1100.5 L1802.2,1097.7 L1801.3,1094.8 L1800.5,1092.0 L1799.7,1089.1 L1798.8,1086.1 L1798.0,1083.2 L1797.2,1080.3 L1796.3,1077.5 L1795.6,1074.3 L1794.9,1071.2 L1794.1,1068.0 L1793.4,1064.7 L1792.7,1061.5 L1792.0,1058.1 L1791.4,1054.8 L1790.7,1051.4 L1790.0,1048.0 L1789.4,1044.6 L1788.8,1041.1 L1788.2,1037.6 L1787.6,1034.0 L1787.0,1030.4 L1786.5,1026.8 L1785.9,1023.2 L1785.4,1019.5 L1784.9,1015.7 L1784.4,1012.0 L1783.9,1008.2 L1783.4,1004.4 L1783.0,1000.5 L1782.6,996.7 L1782.1,992.7 L1781.8,988.8 L1781.4,984.8 L1781.0,980.8 L1780.7,976.8 L1780.3,972.7 L1780.0,968.6 L1779.7,964.5 L1779.5,960.4 L1779.2,956.2 L1779.0,952.0 L1778.8,947.8 L1778.6,943.5 L1778.4,939.2 L1778.2,934.9 L1778.1,930.6 L1778.0,926.3 L1777.9,921.9 L1777.8,917.5 L1777.8,913.1 L1777.7,908.7 L1777.7,904.2 L1777.7,899.7 L1777.8,895.3 L1777.8,890.8 L1777.9,886.3 L1778.0,881.7 L1778.1,877.2 L1778.2,872.7 L1778.4,868.1 L1778.6,863.5 L1778.8,859.0 L1779.0,854.4 L1779.2,849.8 L1779.5,845.3 L1779.7,840.7 L1780.0,836.1 L1780.3,831.5 L1780.7,826.9 L1781.0,822.3 L1781.4,817.8 L1781.8,813.2 L1782.2,808.6 L1782.6,804.1 L1783.0,799.5 L1783.5,795.0 L1784.0,790.4 L1784.5,785.9 L1785.0,781.4 L1785.5,776.9 L1786.0,772.4 L1786.6,767.9 L1787.1,763.4 L1787.7,759.0 L1788.3,754.5 L1788.9,750.1 L1789.5,745.7 L1790.2,741.3 L1790.8,736.9 L1791.5,732.6 L1792.1,728.2 L1792.8,723.9 L1793.5,719.6 L1794.2,715.3 L1794.9,711.1 L1795.6,706.8 L1796.4,702.6 L1797.1,698.4 L1797.9,694.2 L1798.6,690.0 L1799.4,685.9 L1800.2,681.8 L1800.9,677.7 L1801.7,673.6 L1802.5,669.5 L1803.4,665.5 L1804.2,661.5 L1805.0,657.5 L1805.9,653.5 L1806.7,649.6 L1807.6,645.7 L1808.4,641.8 L1809.3,637.9 L1810.2,634.1 L1811.1,630.3 L1812.0,626.5 L1812.9,622.7 L1813.8,619.0 L1814.7,615.2 L1815.6,611.6 L1816.6,607.9 L1817.5,604.3 L1818.5,600.7 L1819.4,597.1 L1820.4,593.5 L1821.4,590.0 L1822.4,586.5 L1823.4,583.1 L1824.4,579.6 L1825.4,576.2 L1826.4,572.9 L1827.4,569.5 L1828.4,566.2 L1829.4,562.9 L1830.5,559.7 L1831.5,556.5 L1832.5,553.3 L1833.6,550.1 L1834.6,546.9 L1835.7,543.8 L1836.7,540.7 L1837.8,537.7 L1838.9,534.6 L1839.9,531.6 L1841.0,528.7 L1842.1,525.7 L1843.2,522.8 L1844.2,519.9 L1845.3,517.0 L1846.4,514.1 L1847.5,511.3 L1848.6,508.5 L1849.7,505.7 L1850.8,502.9 L1851.9,500.1 L1853.0,497.4 L1854.1,494.7 L1855.2,492.0 L1856.3,489.4 L1857.4,486.7 L1858.5,484.1 L1859.6,481.5 L1860.7,478.9 L1861.8,476.3 L1863.0,473.8 L1864.1,471.2 L1865.2,468.7 L1866.3,466.2 L1867.4,463.7 L1868.6,461.2 L1869.7,458.8 L1870.8,456.3 L1872.0,453.9 L1873.1,451.4 L1874.2,449.0 L1875.4,446.6 L1876.5,444.3 L1877.7,441.9 L1878.8,439.5 L1880.0,437.2 L1881.1,434.9 L1882.3,432.6 L1883.4,430.2 L1884.6,428.0 L1885.7,425.7 L1886.9,423.4 L1888.1,421.1 L1889.3,418.9 L1890.4,416.7 L1891.6,414.5 L1892.8,412.2 L1894.0,410.1 L1895.2,407.9 L1896.4,405.7 L1897.6,403.5 L1898.8,401.4 L1900.0,399.3 L1901.3,397.2 L1902.5,395.1 L1903.7,393.0 L1904.9,390.9 L1906.2,388.8 L1907.4,386.8 L1908.7,384.8 L1909.9,382.7 L1911.2,380.7 L1912.4,378.7 L1913.7,376.8 L1915.0,374.8 L1916.3,372.9 L1917.5,371.0 L1918.8,369.0 L1920.1,367.1 L1921.4,365.3 L1922.8,363.4 L1924.1,361.6 L1925.4,359.7 L1926.7,357.9 L1928.0,356.1 L1929.4,354.4 L1930.7,352.6 L1932.1,350.9 L1933.4,349.2 L1934.8,347.5 L1936.2,345.8 L1937.6,344.2 L1938.9,342.5 L1940.3,340.9 L1941.7,339.3 L1943.1,337.8 L1944.5,336.2 L1946.0,334.7 L1947.4,333.2 L1948.8,331.7 L1950.3,330.3 L1951.7,328.8 L1953.2,327.4 L1954.6,326.0 L1956.1,324.7 L1957.5,323.4 L1959.0,322.1 L1960.5,320.8 L1962.0,319.5 L1963.5,318.3 L1965.0,317.1 L1966.5,315.9 L1968.1,314.8 L1969.6,313.7 L1971.1,312.6 L1972.7,311.5 L1974.2,310.5 L1975.8,309.5 L1977.4,308.5 L1978.9,307.6 L1980.5,306.7 L1982.1,305.8 L1983.7,305.0 L1985.3,304.2 L1986.9,303.4 L1988.5,302.6 L1990.2,301.9 L1991.8,301.2 L1993.4,300.6 L1995.1,300.0 L1996.8,299.4 L1998.4,298.9 L2000.1,298.4 L2001.8,297.9 L2003.5,297.5 L2005.2,297.1 L2006.9,296.7 L2008.6,296.4 L2010.3,296.2 L2012.1,295.9 L2013.8,295.8 L2015.5,295.6 L2017.3,295.5 L2019.1,295.4 L2020.8,295.4 L2022.6,295.5 L2024.4,295.5 L2026.2,295.7 L2028.0,295.8 L2029.8,296.0 L2031.6,296.3 L2033.4,296.6 L2035.3,297.0 L2037.1,297.4 L2039.0,297.9 L2040.8,298.4 L2042.7,299.0 L2044.5,299.7 L2046.4,300.4 L2048.3,301.1 L2050.2,302.0 L2052.0,302.9 L2053.9,303.9 L2055.8,305.0 L2057.7,306.1 L2059.6,307.4 L2061.5,308.7 L2063.3,310.1 L2065.2,311.6 L2067.1,313.2 L2068.9,314.9 L2070.8,316.7 L2072.6,318.7 L2074.4,320.7 L2076.2,322.8 L2078.0,325.0 L2079.8,327.4 L2081.6,329.9 L2083.3,332.5 L2085.0,335.2 L2086.7,338.0 L2088.4,341.0 L2090.0,344.0 L2091.6,347.2 L2093.2,350.6 L2094.8,354.0 L2096.3,357.6 L2097.8,361.4 L2099.2,365.2 L2100.6,369.2 L2102.0,373.4 L2103.3,377.6 L2104.6,382.0 L2105.8,386.5 L2107.0,391.2 L2108.2,396.0 L2109.2,400.9 L2110.3,406.0 L2111.3,411.1 L2112.2,416.4 L2113.1,421.8 L2113.9,427.4 L2114.6,433.0 L2115.3,438.7 L2116.0,444.5 L2116.6,450.5 L2117.1,456.5 L2117.6,462.6 L2118.1,468.8 L2118.4,475.1 L2118.8,481.5 L2119.0,487.9 L2119.3,494.4 L2119.5,500.9 L2119.6,507.5 L2119.7,514.2 L2119.7,520.9 L2119.7,527.6 L2119.6,534.4 L2119.5,541.2 L2119.3,548.1 L2119.1,554.9 L2118.9,561.8 L2118.6,568.7 L2118.3,575.7 L2117.9,582.6 L2117.5,589.6 L2117.1,596.6 L2116.6,603.5 L2116.1,610.5 L2115.5,617.5 L2114.9,624.5 L2114.3,631.4 L2113.7,638.4 L2113.0,645.3 L2112.2,652.3 L2111.5,659.2 L2110.7,666.1 L2109.9,673.0 L2109.0,679.8 L2108.2,686.7 L2107.3,693.5 L2106.3,700.3 L2105.4,707.0 L2104.4,713.7 L2103.4,720.4 L2102.3,727.1 L2101.3,733.7 L2100.2,740.3 L2099.1,746.8 L2098.0,753.3 L2096.9,759.8 L2095.7,766.2 L2094.5,772.6 L2093.3,778.9 L2092.1,785.2 L2090.9,791.5 L2089.7,797.7 L2088.4,803.8 L2087.1,809.9 L2085.8,816.0 L2084.5,822.0 L2083.2,828.0 L2081.9,833.9 L2080.6,839.8 L2079.2,845.6 L2077.9,851.3 L2076.5,857.1 L2075.1,862.8 L2073.7,868.4 L2072.4,874.0 L2071.0,879.5 L2069.6,885.0 L2068.1,890.4 L2066.7,895.8 L2065.3,901.2 L2063.9,906.5 L2062.5,911.7 L2061.0,916.9 L2059.6,922.1 L2058.2,927.2 L2056.7,932.3 L2055.3,937.3 L2053.8,942.3 L2052.4,947.2 L2050.9,952.1 L2049.5,957.0 L2048.0,961.8 L2046.5,966.6 L2045.1,971.3 L2043.6,976.0 L2042.1,980.7 L2040.7,985.3 L2039.2,989.9 L2037.7,994.4 L2036.2,998.9 L2034.8,1003.4 L2033.3,1007.8 L2031.8,1012.2 L2030.3,1016.6 L2028.8,1020.9 L2027.4,1025.2 L2025.9,1029.5 L2024.4,1033.7 L2022.9,1037.9 L2021.4,1042.0 L2019.9,1046.1 L2018.4,1050.2 L2016.9,1054.3 L2015.4,1058.3 L2013.9,1062.3 L2012.4,1066.2 L2010.9,1070.1 L2009.4,1074.0 L2007.9,1077.8 L2006.4,1081.6 L2004.9,1085.4 L2003.4,1089.1 L2001.8,1092.8 L2000.3,1096.4 L1998.8,1100.0 L1997.2,1103.6 L1995.7,1107.1 L1994.2,1110.6 L1992.6,1114.1 L1991.1,1117.5 L1989.5,1120.9 L1988.0,1124.2 L1986.4,1127.5 L1984.8,1130.7 L1983.3,1133.9 L1981.7,1137.1 L1980.1,1140.2 L1978.6,1143.2 L1977.0,1146.3 L1975.4,1149.2 L1973.8,1152.1 L1972.2,1155.0 L1970.6,1157.8 L1969.1,1160.6 L1967.5,1163.3 L1965.9,1166.0 L1964.3,1168.6 L1962.6,1171.2 L1961.0,1173.7 L1959.4,1176.1 L1957.8,1178.5 L1956.2,1180.8 L1954.6,1183.1 L1953.0,1185.3 L1951.4,1187.5 L1949.7,1189.6 L1948.1,1191.6 L1946.5,1193.6 L1944.9,1195.6 L1943.3,1197.4 L1941.6,1199.2 L1940.0,1201.0 L1938.4,1202.7 L1936.8,1204.3 L1935.2,1205.9 L1933.6,1207.5 L1932.0,1208.9 L1930.3,1210.3 L1928.7,1211.7 L1927.1,1213.0 L1925.5,1214.3 L1923.9,1215.4 L1922.3,1216.6 L1920.7,1217.7 L1919.1,1218.7 L1917.6,1219.6 L1916.0,1220.5 L1914.4,1221.4 L1912.8,1222.2 L1911.2,1222.9 L1909.7,1223.6 L1908.1,1224.2 L1906.6,1224.8 L1905.0,1225.3 L1903.5,1225.7 L1901.9,1226.1 L1900.4,1226.4 L1898.8,1226.7 L1897.3,1226.9 L1895.8,1227.0 L1894.3,1227.1 L1892.8,1227.1 L1891.3,1227.1 L1889.8,1227.0 L1888.3,1226.8 L1886.8,1226.5 L1885.4,1226.2 L1883.9,1225.9 L1882.5,1225.4 L1881.0,1224.9 L1879.6,1224.3 L1878.2,1223.7 L1876.8,1223.0 L1875.4,1222.2 L1874.0,1221.3 L1872.6,1220.4 L1871.3,1219.4 L1869.9,1218.4 L1868.6,1217.3 L1867.3,1216.1 L1865.9,1214.8 L1864.6,1213.5 L1863.4,1212.2 L1862.1,1210.7 L1860.8,1209.3 L1859.6,1207.7 L1858.3,1206.2 L1857.1,1204.5 L1855.9,1202.8 L1854.7,1201.1 L1853.5,1199.4 L1852.3,1197.5 L1851.1,1195.7 L1850.0,1193.8 L1848.9,1191.9 L1847.7,1189.9 L1846.6,1187.9 L1845.5,1185.9 L1844.4,1183.8 L1843.3,1181.7 L1842.2,1179.6 L1841.2,1177.5 L1840.1,1175.3 L1839.1,1173.1 L1838.1,1170.9 L1837.0,1168.6 L1836.0,1166.3 L1835.0,1164.0 L1834.0,1161.7 L1833.0,1159.4 L1832.1,1157.1 L1831.1,1154.7 L1830.1,1152.3 L1829.2,1149.9 L1828.2,1147.5 L1827.3,1145.1 L1826.4,1142.7 L1825.4,1140.2 L1824.5,1137.7 L1823.6,1135.3 L1822.7,1132.8 L1821.8,1130.3 L1820.9,1127.8 L1820.0,1125.3 L1819.1,1122.7 L1818.3,1120.2 L1817.4,1117.7 L1816.5,1115.1 L1815.7,1112.6 L1814.8,1110.0 L1813.9,1107.4 L1813.1,1104.8 L1812.2,1102.2 L1811.4,1099.6 L1810.6,1096.9 L1809.7,1094.3 L1808.9,1091.6 L1808.1,1088.9 L1807.3,1086.2 L1806.5,1083.4 L1805.7,1080.7 L1804.9,1077.9 L1804.1,1075.1 L1803.3,1072.2 L1802.6,1069.4 L1801.7,1066.7 L1801.0,1063.9 L1800.2,1060.9 L1799.5,1057.8 L1798.8,1054.8 L1798.1,1051.7 L1797.5,1048.6 L1796.8,1045.4 L1796.1,1042.2 L1795.5,1039.0 L1794.8,1035.8 L1794.2,1032.5 L1793.6,1029.3 L1793.0,1025.9 L1792.4,1022.6 L1791.8,1019.2 L1791.2,1015.8 L1790.7,1012.4 L1790.1,1008.9 L1789.6,1005.4 L1789.0,1001.9 L1788.5,998.4 L1788.0,994.8 L1787.5,991.2 L1787.0,987.6 L1786.6,983.9 L1786.1,980.3 L1785.7,976.6 L1785.2,972.8 L1784.8,969.1 L1784.4,965.3 L1784.0,961.5 L1783.6,957.7 L1783.2,953.8 L1782.8,949.9 L1782.5,946.0 L1782.2,942.1 L1781.8,938.1 L1781.5,934.2 L1781.2,930.2 L1780.9,926.1 L1780.7,922.1 L1780.4,918.0 L1780.2,913.9 L1779.9,909.8 L1779.7,905.6 L1779.5,901.4 L1779.3,897.3 L1779.1,893.0 L1779.0,888.8 L1778.8,884.5 L1778.7,880.3 L1778.6,876.0 L1778.5,871.6 L1778.4,867.3 L1778.4,862.9 L1778.3,858.5 L1778.3,854.1 L1778.3,849.7 L1778.3,845.3 L1778.3,840.8 L1778.3,836.4 L1778.3,831.9 L1778.4,827.4 L1778.5,822.8 L1778.6,818.3 L1778.7,813.8 L1778.8,809.2 L1779.0,804.6 L1779.2,800.0 L1779.3,795.5 L1779.5,790.8 L1779.8,786.2 L1780.0,781.6 L1780.2,777.0 L1780.5,772.3 L1780.8,767.7 L1781.1,763.0 L1781.4,758.4 L1781.7,753.7 L1782.1,749.1 L1782.5,744.4 L1782.8,739.7 L1783.2,735.0 L1783.7,730.4 L1784.1,725.7 L1784.5,721.0 L1785.0,716.3 L1785.5,711.6 L1786.0,707.0 L1786.5,702.3 L1787.0,697.6 L1787.5,693.0 L1788.1,688.3 L1788.7,683.6 L1789.2,679.0 L1789.8,674.3 L1790.4,669.7 L1791.1,665.1 L1791.7,660.4 L1792.4,655.8 L1793.1,651.2 L1793.7,646.6 L1794.5,642.0 L1795.2,637.5 L1795.9,632.9 L1796.7,628.4 L1797.4,623.8 L1798.2,619.3 L1799.0,614.8 L1799.8,610.3 L1800.6,605.8 L1801.5,601.4 L1802.3,596.9 L1803.2,592.5 L1804.0,588.1 L1804.9,583.7 L1805.8,579.4 L1806.8,575.1 L1807.7,570.7 L1808.7,566.5 L1809.6,562.2 L1810.6,558.0 L1811.6,553.7 L1812.6,549.6 L1813.6,545.4 L1814.6,541.2 L1815.6,537.1 L1816.7,533.0 L1817.7,529.0 L1818.8,524.9 L1819.9,520.9 L1821.0,517.0 L1822.1,513.0 L1823.2,509.1 L1824.3,505.2 L1825.4,501.3 L1826.5,497.4 L1827.7,493.6 L1828.8,489.8 L1830.0,486.0 L1831.1,482.2 L1832.3,478.5 L1833.5,474.8 L1834.7,471.1 L1835.9,467.5 L1837.1,463.8 L1838.3,460.2 L1839.5,456.6" fill="none" stroke="#742c95" stroke-width="5.8" stroke-linecap="round" stroke-linejoin="round"/>
<path d="M1801.4,1066.7 L1800.7,1063.8 L1800.0,1060.9 L1799.3,1058.0 L1798.5,1055.1 L1797.9,1052.1 L1797.2,1049.1 L1796.5,1046.0 L1795.8,1042.9 L1795.2,1039.8 L1794.5,1036.7 L1793.9,1033.5 L1793.3,1030.3 L1792.7,1027.1 L1792.1,1023.8 L1791.5,1020.5 L1790.9,1017.1 L1790.3,1013.7 L1789.7,1010.3 L1789.2,1006.9 L1788.6,1003.4 L1788.1,999.9 L1787.6,996.3 L1787.1,992.7 L1786.6,989.1 L1786.1,985.4 L1785.6,981.8 L1785.1,978.0 L1784.7,974.3 L1784.2,970.5 L1783.8,966.7 L1783.4,962.9 L1783.0,959.0 L1782.6,955.1 L1782.2,951.2 L1781.8,947.2 L1781.4,943.3 L1781.1,939.3 L1780.8,935.2 L1780.4,931.2 L1780.1,927.1 L1779.8,923.0 L1779.6,918.9 L1779.3,914.7 L1779.0,910.5 L1778.8,906.3 L1778.6,902.1 L1778.4,897.8 L1778.2,893.6 L1778.0,889.3 L1777.8,885.0 L1777.7,880.6 L1777.6,876.3 L1777.4,871.9 L1777.3,867.5 L1777.3,863.1 L1777.2,858.6 L1777.1,854.2 L1777.1,849.7 L1777.1,845.2 L1777.1,840.7 L1777.1,836.2 L1777.1,831.6 L1777.2,827.1 L1777.2,822.5 L1777.3,817.9 L1777.4,813.3 L1777.5,808.7 L1777.6,804.1 L1777.8,799.4 L1778.0,794.8 L1778.1,790.1 L1778.3,785.4 L1778.6,780.7 L1778.8,776.0 L1779.1,771.3 L1779.3,766.6 L1779.6,761.9 L1779.9,757.2 L1780.3,752.5 L1780.6,747.7 L1780.9,743.0 L1781.3,738.2 L1781.7,733.5 L1782.1,728.8 L1782.5,724.0 L1783.0,719.3 L1783.4,714.5 L1783.9,709.8 L1784.4,705.1 L1784.9,700.3 L1785.4,695.6 L1786.0,690.9 L1786.5,686.2 L1787.1,681.5 L1787.7,676.8 L1788.3,672.1 L1788.9,667.4 L1789.5,662.7 L1790.2,658.1 L1790.9,653.4 L1791.5,648.8 L1792.2,644.2 L1793.0,639.6 L1793.7,635.0 L1794.4,630.4 L1795.2,625.9 L1796.0,621.3 L1796.8,616.8 L1797.6,612.3 L1798.4,607.8 L1799.2,603.4 L1800.1,598.9 L1800.9,594.5 L1801.8,590.1 L1802.7,585.7 L1803.6,581.4 L1804.6,577.1 L1805.5,572.8 L1806.5,568.5 L1807.4,564.3 L1808.4,560.1 L1809.4,555.9 L1810.4,551.7 L1811.4,547.6 L1812.5,543.5 L1813.5,539.5 L1814.6,535.4 L1815.7,531.4 L1816.7,527.4 L1817.8,523.5 L1819.0,519.5 L1820.1,515.7 L1821.2,511.8 L1822.4,508.0 L1823.5,504.1 L1824.7,500.4 L1825.9,496.6 L1827.0,492.9 L1828.2,489.2 L1829.5,485.6 L1830.7,481.9 L1831.9,478.3 L1833.1,474.8 L1834.4,471.2 L1835.6,467.7 L1836.9,464.3 L1838.1,460.8 L1839.4,457.4 L1840.7,454.0 L1842.0,450.7 L1843.3,447.4 L1844.6,444.1 L1845.9,440.8 L1847.2,437.6 L1848.6,434.4 L1849.9,431.3 L1851.2,428.2 L1852.6,425.1 L1853.9,422.0 L1855.3,419.0 L1856.6,416.0 L1858.0,413.1 L1859.3,410.1 L1860.7,407.3 L1862.1,404.4 L1863.4,401.6 L1864.8,398.8 L1866.2,396.0 L1867.6,393.3 L1869.0,390.6 L1870.4,388.0 L1871.8,385.4 L1873.2,382.8 L1874.5,380.3 L1875.9,377.8 L1877.3,375.3 L1878.8,372.8 L1880.2,370.4 L1881.6,368.1 L1883.0,365.8 L1884.4,363.5 L1885.8,361.2 L1887.2,359.0 L1888.6,356.8 L1890.0,354.7 L1891.5,352.6 L1892.9,350.5 L1894.3,348.4 L1895.7,346.5 L1897.2,344.5 L1898.6,342.6 L1900.0,340.7 L1901.4,338.9 L1902.9,337.1 L1904.3,335.3 L1905.7,333.6 L1907.2,331.9 L1908.6,330.2 L1910.0,328.6 L1911.5,327.1 L1912.9,325.5 L1914.3,324.0 L1915.8,322.6 L1917.2,321.2 L1918.6,319.8 L1920.1,318.5 L1921.5,317.2 L1923.0,316.0 L1924.4,314.8 L1925.8,313.6 L1927.3,312.5 L1928.7,311.4 L1930.1,310.4 L1931.6,309.4 L1933.0,308.4 L1934.5,307.5 L1935.9,306.7 L1937.3,305.8 L1938.8,305.1 L1940.2,304.3 L1941.6,303.6 L1943.1,303.0 L1944.5,302.4 L1945.9,301.8 L1947.4,301.3 L1948.8,300.8 L1950.2,300.4 L1951.6,300.0 L1953.1,299.7 L1954.5,299.4 L1955.9,299.2 L1957.3,299.0 L1958.8,298.8 L1960.2,298.7 L1961.6,298.6 L1963.0,298.6 L1964.4,298.6 L1965.8,298.7 L1967.2,298.8 L1968.6,299.0 L1970.0,299.2 L1971.4,299.4 L1972.8,299.7 L1974.2,300.1 L1975.6,300.5 L1977.0,300.9 L1978.4,301.4 L1979.7,302.0 L1981.1,302.5 L1982.5,303.2 L1983.9,303.9 L1985.2,304.6 L1986.6,305.4 L1987.9,306.2 L1989.3,307.1 L1990.6,308.0 L1992.0,309.0 L1993.3,310.0 L1994.6,311.1 L1996.0,312.2 L1997.3,313.4 L1998.6,314.6 L1999.9,315.9 L2001.2,317.2 L2002.5,318.5 L2003.8,320.0 L2005.1,321.4 L2006.4,323.0 L2007.7,324.5 L2008.9,326.1 L2010.2,327.8 L2011.5,329.5 L2012.7,331.3 L2014.0,333.1 L2015.2,335.0 L2016.4,337.0 L2017.7,338.9 L2018.9,341.0 L2020.1,343.0 L2021.3,345.2 L2022.5,347.4 L2023.6,349.6 L2024.8,351.9 L2026.0,354.2 L2027.1,356.6 L2028.3,359.0 L2029.4,361.5 L2030.5,364.1 L2031.6,366.6 L2032.7,369.3 L2033.7,372.0 L2034.8,374.7 L2035.8,377.5 L2036.9,380.3 L2037.9,383.2 L2038.9,386.1 L2039.9,389.1 L2040.8,392.1 L2041.8,395.2 L2042.7,398.3 L2043.6,401.5 L2044.5,404.7 L2045.4,408.0 L2046.3,411.3 L2047.1,414.7 L2047.9,418.1 L2048.7,421.6 L2049.5,425.1 L2050.2,428.7 L2051.0,432.3 L2051.7,435.9 L2052.4,439.7 L2053.1,443.4 L2053.7,447.2 L2054.3,451.1 L2054.9,455.0 L2055.5,458.9 L2056.1,462.9 L2056.6,467.0 L2057.1,471.0 L2057.6,475.2 L2058.0,479.4 L2058.4,483.6 L2058.8,487.9 L2059.2,492.2 L2059.5,496.6 L2059.9,501.0 L2060.2,505.4 L2060.4,509.9 L2060.7,514.5 L2060.9,519.0 L2061.1,523.6 L2061.2,528.3 L2061.4,533.0 L2061.5,537.7 L2061.6,542.4 L2061.7,547.2 L2061.7,552.0 L2061.8,556.8 L2061.8,561.6 L2061.7,566.5 L2061.7,571.4 L2061.7,576.3 L2061.6,581.3 L2061.5,586.2 L2061.4,591.2 L2061.2,596.2 L2061.1,601.2 L2060.9,606.2 L2060.7,611.2 L2060.5,616.2 L2060.3,621.3 L2060.1,626.3 L2059.8,631.4 L2059.5,636.4 L2059.2,641.5 L2058.9,646.6 L2058.6,651.6 L2058.2,656.7 L2057.9,661.8 L2057.5,666.8 L2057.1,671.9 L2056.7,676.9 L2056.3,682.0 L2055.9,687.0 L2055.5,692.0 L2055.0,697.0 L2054.6,702.0 L2054.1,707.0 L2053.6,712.0 L2053.1,716.9 L2052.6,721.9 L2052.1,726.8 L2051.5,731.7 L2051.0,736.5 L2050.5,741.4 L2049.9,746.2 L2049.3,751.0 L2048.8,755.8 L2048.2,760.5 L2047.6,765.3 L2047.0,770.0 L2046.3,774.7 L2045.7,779.3 L2045.1,784.0 L2044.4,788.6 L2043.8,793.2 L2043.1,797.8 L2042.5,802.4 L2041.8,807.0 L2041.1,811.5 L2040.4,816.0 L2039.7,820.5 L2039.0,825.0 L2038.2,829.5 L2037.5,833.9 L2036.7,838.3 L2036.0,842.8 L2035.2,847.2 L2034.5,851.5 L2033.7,855.9 L2032.9,860.3 L2032.1,864.6 L2031.3,868.9 L2030.5,873.3 L2029.6,877.6 L2028.8,881.8 L2028.0,886.1 L2027.1,890.4 L2026.3,894.6 L2025.4,898.9 L2024.5,903.1 L2023.6,907.3 L2022.7,911.5 L2021.8,915.7 L2020.9,919.9 L2020.0,924.0 L2019.1,928.2 L2018.2,932.3 L2017.2,936.5 L2016.3,940.6 L2015.3,944.7 L2014.3,948.9 L2013.4,953.0 L2012.4,957.1 L2011.4,961.2 L2010.4,965.3 L2009.4,969.3 L2008.4,973.4 L2007.4,977.5 L2006.3,981.5 L2005.3,985.5 L2004.2,989.6 L2003.2,993.6 L2002.1,997.6 L2001.1,1001.6 L2000.0,1005.5 L1998.9,1009.5 L1997.8,1013.4 L1996.7,1017.4 L1995.6,1021.3 L1994.5,1025.1 L1993.4,1029.0 L1992.2,1032.8 L1991.1,1036.7 L1989.9,1040.5 L1988.8,1044.2 L1987.6,1048.0 L1986.5,1051.7 L1985.3,1055.4 L1984.1,1059.1 L1982.9,1062.7 L1981.7,1066.4 L1980.5,1069.9 L1979.3,1073.5 L1978.0,1077.0 L1976.8,1080.5 L1975.6,1084.0 L1974.3,1087.4 L1973.1,1090.8 L1971.8,1094.2 L1970.5,1097.5 L1969.2,1100.8 L1967.9,1104.1 L1966.6,1107.3 L1965.3,1110.5 L1964.0,1113.7 L1962.7,1116.8 L1961.4,1119.8 L1960.0,1122.9 L1958.7,1125.8 L1957.3,1128.8 L1956.0,1131.7 L1954.6,1134.5 L1953.2,1137.3 L1951.8,1140.1 L1950.5,1142.8 L1949.1,1145.5 L1947.6,1148.1 L1946.2,1150.6 L1944.8,1153.2 L1943.4,1155.6 L1941.9,1158.1 L1940.5,1160.4 L1939.1,1162.7 L1937.6,1165.0 L1936.2,1167.2 L1934.7,1169.4 L1933.2,1171.5 L1931.8,1173.6 L1930.3,1175.6 L1928.8,1177.5 L1927.3,1179.4 L1925.9,1181.2 L1924.4,1183.0 L1922.9,1184.7 L1921.4,1186.4 L1919.9,1188.0 L1918.4,1189.6 L1916.9,1191.1 L1915.5,1192.5 L1914.0,1193.9 L1912.5,1195.2 L1911.0,1196.4 L1909.5,1197.6 L1908.0,1198.8 L1906.5,1199.8 L1905.1,1200.8 L1903.6,1201.8 L1902.1,1202.7 L1900.7,1203.5 L1899.2,1204.2 L1897.7,1204.9 L1896.3,1205.5 L1894.8,1206.1 L1893.4,1206.6 L1891.9,1207.0 L1890.5,1207.4 L1889.1,1207.7 L1887.7,1207.9 L1886.2,1208.0 L1884.8,1208.1 L1883.4,1208.1 L1882.0,1208.1 L1880.7,1207.9 L1879.3,1207.8 L1877.9,1207.5 L1876.6,1207.1 L1875.2,1206.7 L1873.9,1206.2 L1872.6,1205.7 L1871.2,1205.1 L1869.9,1204.4 L1868.6,1203.6 L1867.3,1202.8 L1866.1,1201.9 L1864.8,1200.9 L1863.5,1199.9 L1862.3,1198.8 L1861.0,1197.7 L1859.8,1196.5 L1858.6,1195.2 L1857.4,1193.9 L1856.2,1192.6 L1855.0,1191.2 L1853.8,1189.7 L1852.6,1188.2 L1851.4,1186.6 L1850.3,1185.0 L1849.1,1183.3 L1848.0,1181.6 L1846.8,1179.9 L1845.7,1178.1 L1844.6,1176.3 L1843.5,1174.4 L1842.4,1172.5 L1841.3,1170.5 L1840.2,1168.5 L1839.1,1166.5 L1838.0,1164.4 L1837.0,1162.3 L1835.9,1160.2 L1834.9,1158.0 L1833.8,1155.9 L1832.8,1153.6 L1831.8,1151.4 L1830.7,1149.1 L1829.7,1146.8 L1828.7,1144.5 L1827.7,1142.2 L1826.7,1139.8 L1825.8,1137.4 L1824.8,1135.1 L1823.8,1132.6 L1822.9,1130.2 L1821.9,1127.8 L1821.0,1125.3 L1820.0,1122.8 L1819.1,1120.4 L1818.2,1117.9 L1817.2,1115.4 L1816.3,1112.9 L1815.4,1110.4 L1814.5,1107.8 L1813.6,1105.3 L1812.7,1102.7 L1811.9,1100.2 L1811.0,1097.6 L1810.1,1095.0 L1809.3,1092.4 L1808.4,1089.8 L1807.6,1087.1 L1806.8,1084.4 L1806.0,1081.8 L1805.2,1079.1 L1804.4,1076.4 L1803.6,1073.6 L1802.8,1070.9 L1802.0,1068.1Z" fill="none" stroke="#9fd0ea" stroke-width="8.3" stroke-opacity="0.4" stroke-linecap="round" stroke-linejoin="round"/>
<path d="M1801.4,1066.7 L1800.7,1063.8 L1800.0,1060.9 L1799.3,1058.0 L1798.5,1055.1 L1797.9,1052.1 L1797.2,1049.1 L1796.5,1046.0 L1795.8,1042.9 L1795.2,1039.8 L1794.5,1036.7 L1793.9,1033.5 L1793.3,1030.3 L1792.7,1027.1 L1792.1,1023.8 L1791.5,1020.5 L1790.9,1017.1 L1790.3,1013.7 L1789.7,1010.3 L1789.2,1006.9 L1788.6,1003.4 L1788.1,999.9 L1787.6,996.3 L1787.1,992.7 L1786.6,989.1 L1786.1,985.4 L1785.6,981.8 L1785.1,978.0 L1784.7,974.3 L1784.2,970.5 L1783.8,966.7 L1783.4,962.9 L1783.0,959.0 L1782.6,955.1 L1782.2,951.2 L1781.8,947.2 L1781.4,943.3 L1781.1,939.3 L1780.8,935.2 L1780.4,931.2 L1780.1,927.1 L1779.8,923.0 L1779.6,918.9 L1779.3,914.7 L1779.0,910.5 L1778.8,906.3 L1778.6,902.1 L1778.4,897.8 L1778.2,893.6 L1778.0,889.3 L1777.8,885.0 L1777.7,880.6 L1777.6,876.3 L1777.4,871.9 L1777.3,867.5 L1777.3,863.1 L1777.2,858.6 L1777.1,854.2 L1777.1,849.7 L1777.1,845.2 L1777.1,840.7 L1777.1,836.2 L1777.1,831.6 L1777.2,827.1 L1777.2,822.5 L1777.3,817.9 L1777.4,813.3 L1777.5,808.7 L1777.6,804.1 L1777.8,799.4 L1778.0,794.8 L1778.1,790.1 L1778.3,785.4 L1778.6,780.7 L1778.8,776.0 L1779.1,771.3 L1779.3,766.6 L1779.6,761.9 L1779.9,757.2 L1780.3,752.5 L1780.6,747.7 L1780.9,743.0 L1781.3,738.2 L1781.7,733.5 L1782.1,728.8 L1782.5,724.0 L1783.0,719.3 L1783.4,714.5 L1783.9,709.8 L1784.4,705.1 L1784.9,700.3 L1785.4,695.6 L1786.0,690.9 L1786.5,686.2 L1787.1,681.5 L1787.7,676.8 L1788.3,672.1 L1788.9,667.4 L1789.5,662.7 L1790.2,658.1 L1790.9,653.4 L1791.5,648.8 L1792.2,644.2 L1793.0,639.6 L1793.7,635.0 L1794.4,630.4 L1795.2,625.9 L1796.0,621.3 L1796.8,616.8 L1797.6,612.3 L1798.4,607.8 L1799.2,603.4 L1800.1,598.9 L1800.9,594.5 L1801.8,590.1 L1802.7,585.7 L1803.6,581.4 L1804.6,577.1 L1805.5,572.8 L1806.5,568.5 L1807.4,564.3 L1808.4,560.1 L1809.4,555.9 L1810.4,551.7 L1811.4,547.6 L1812.5,543.5 L1813.5,539.5 L1814.6,535.4 L1815.7,531.4 L1816.7,527.4 L1817.8,523.5 L1819.0,519.5 L1820.1,515.7 L1821.2,511.8 L1822.4,508.0 L1823.5,504.1 L1824.7,500.4 L1825.9,496.6 L1827.0,492.9 L1828.2,489.2 L1829.5,485.6 L1830.7,481.9 L1831.9,478.3 L1833.1,474.8 L1834.4,471.2 L1835.6,467.7 L1836.9,464.3 L1838.1,460.8 L1839.4,457.4 L1840.7,454.0 L1842.0,450.7 L1843.3,447.4 L1844.6,444.1 L1845.9,440.8 L1847.2,437.6 L1848.6,434.4 L1849.9,431.3 L1851.2,428.2 L1852.6,425.1 L1853.9,422.0 L1855.3,419.0 L1856.6,416.0 L1858.0,413.1 L1859.3,410.1 L1860.7,407.3 L1862.1,404.4 L1863.4,401.6 L1864.8,398.8 L1866.2,396.0 L1867.6,393.3 L1869.0,390.6 L1870.4,388.0 L1871.8,385.4 L1873.2,382.8 L1874.5,380.3 L1875.9,377.8 L1877.3,375.3 L1878.8,372.8 L1880.2,370.4 L1881.6,368.1 L1883.0,365.8 L1884.4,363.5 L1885.8,361.2 L1887.2,359.0 L1888.6,356.8 L1890.0,354.7 L1891.5,352.6 L1892.9,350.5 L1894.3,348.4 L1895.7,346.5 L1897.2,344.5 L1898.6,342.6 L1900.0,340.7 L1901.4,338.9 L1902.9,337.1 L1904.3,335.3 L1905.7,333.6 L1907.2,331.9 L1908.6,330.2 L1910.0,328.6 L1911.5,327.1 L1912.9,325.5 L1914.3,324.0 L1915.8,322.6 L1917.2,321.2 L1918.6,319.8 L1920.1,318.5 L1921.5,317.2 L1923.0,316.0 L1924.4,314.8 L1925.8,313.6 L1927.3,312.5 L1928.7,311.4 L1930.1,310.4 L1931.6,309.4 L1933.0,308.4 L1934.5,307.5 L1935.9,306.7 L1937.3,305.8 L1938.8,305.1 L1940.2,304.3 L1941.6,303.6 L1943.1,303.0 L1944.5,302.4 L1945.9,301.8 L1947.4,301.3 L1948.8,300.8 L1950.2,300.4 L1951.6,300.0 L1953.1,299.7 L1954.5,299.4 L1955.9,299.2 L1957.3,299.0 L1958.8,298.8 L1960.2,298.7 L1961.6,298.6 L1963.0,298.6 L1964.4,298.6 L1965.8,298.7 L1967.2,298.8 L1968.6,299.0 L1970.0,299.2 L1971.4,299.4 L1972.8,299.7 L1974.2,300.1 L1975.6,300.5 L1977.0,300.9 L1978.4,301.4 L1979.7,302.0 L1981.1,302.5 L1982.5,303.2 L1983.9,303.9 L1985.2,304.6 L1986.6,305.4 L1987.9,306.2 L1989.3,307.1 L1990.6,308.0 L1992.0,309.0 L1993.3,310.0 L1994.6,311.1 L1996.0,312.2 L1997.3,313.4 L1998.6,314.6 L1999.9,315.9 L2001.2,317.2 L2002.5,318.5 L2003.8,320.0 L2005.1,321.4 L2006.4,323.0 L2007.7,324.5 L2008.9,326.1 L2010.2,327.8 L2011.5,329.5 L2012.7,331.3 L2014.0,333.1 L2015.2,335.0 L2016.4,337.0 L2017.7,338.9 L2018.9,341.0 L2020.1,343.0 L2021.3,345.2 L2022.5,347.4 L2023.6,349.6 L2024.8,351.9 L2026.0,354.2 L2027.1,356.6 L2028.3,359.0 L2029.4,361.5 L2030.5,364.1 L2031.6,366.6 L2032.7,369.3 L2033.7,372.0 L2034.8,374.7 L2035.8,377.5 L2036.9,380.3 L2037.9,383.2 L2038.9,386.1 L2039.9,389.1 L2040.8,392.1 L2041.8,395.2 L2042.7,398.3 L2043.6,401.5 L2044.5,404.7 L2045.4,408.0 L2046.3,411.3 L2047.1,414.7 L2047.9,418.1 L2048.7,421.6 L2049.5,425.1 L2050.2,428.7 L2051.0,432.3 L2051.7,435.9 L2052.4,439.7 L2053.1,443.4 L2053.7,447.2 L2054.3,451.1 L2054.9,455.0 L2055.5,458.9 L2056.1,462.9 L2056.6,467.0 L2057.1,471.0 L2057.6,475.2 L2058.0,479.4 L2058.4,483.6 L2058.8,487.9 L2059.2,492.2 L2059.5,496.6 L2059.9,501.0 L2060.2,505.4 L2060.4,509.9 L2060.7,514.5 L2060.9,519.0 L2061.1,523.6 L2061.2,528.3 L2061.4,533.0 L2061.5,537.7 L2061.6,542.4 L2061.7,547.2 L2061.7,552.0 L2061.8,556.8 L2061.8,561.6 L2061.7,566.5 L2061.7,571.4 L2061.7,576.3 L2061.6,581.3 L2061.5,586.2 L2061.4,591.2 L2061.2,596.2 L2061.1,601.2 L2060.9,606.2 L2060.7,611.2 L2060.5,616.2 L2060.3,621.3 L2060.1,626.3 L2059.8,631.4 L2059.5,636.4 L2059.2,641.5 L2058.9,646.6 L2058.6,651.6 L2058.2,656.7 L2057.9,661.8 L2057.5,666.8 L2057.1,671.9 L2056.7,676.9 L2056.3,682.0 L2055.9,687.0 L2055.5,692.0 L2055.0,697.0 L2054.6,702.0 L2054.1,707.0 L2053.6,712.0 L2053.1,716.9 L2052.6,721.9 L2052.1,726.8 L2051.5,731.7 L2051.0,736.5 L2050.5,741.4 L2049.9,746.2 L2049.3,751.0 L2048.8,755.8 L2048.2,760.5 L2047.6,765.3 L2047.0,770.0 L2046.3,774.7 L2045.7,779.3 L2045.1,784.0 L2044.4,788.6 L2043.8,793.2 L2043.1,797.8 L2042.5,802.4 L2041.8,807.0 L2041.1,811.5 L2040.4,816.0 L2039.7,820.5 L2039.0,825.0 L2038.2,829.5 L2037.5,833.9 L2036.7,838.3 L2036.0,842.8 L2035.2,847.2 L2034.5,851.5 L2033.7,855.9 L2032.9,860.3 L2032.1,864.6 L2031.3,868.9 L2030.5,873.3 L2029.6,877.6 L2028.8,881.8 L2028.0,886.1 L2027.1,890.4 L2026.3,894.6 L2025.4,898.9 L2024.5,903.1 L2023.6,907.3 L2022.7,911.5 L2021.8,915.7 L2020.9,919.9 L2020.0,924.0 L2019.1,928.2 L2018.2,932.3 L2017.2,936.5 L2016.3,940.6 L2015.3,944.7 L2014.3,948.9 L2013.4,953.0 L2012.4,957.1 L2011.4,961.2 L2010.4,965.3 L2009.4,969.3 L2008.4,973.4 L2007.4,977.5 L2006.3,981.5 L2005.3,985.5 L2004.2,989.6 L2003.2,993.6 L2002.1,997.6 L2001.1,1001.6 L2000.0,1005.5 L1998.9,1009.5 L1997.8,1013.4 L1996.7,1017.4 L1995.6,1021.3 L1994.5,1025.1 L1993.4,1029.0 L1992.2,1032.8 L1991.1,1036.7 L1989.9,1040.5 L1988.8,1044.2 L1987.6,1048.0 L1986.5,1051.7 L1985.3,1055.4 L1984.1,1059.1 L1982.9,1062.7 L1981.7,1066.4 L1980.5,1069.9 L1979.3,1073.5 L1978.0,1077.0 L1976.8,1080.5 L1975.6,1084.0 L1974.3,1087.4 L1973.1,1090.8 L1971.8,1094.2 L1970.5,1097.5 L1969.2,1100.8 L1967.9,1104.1 L1966.6,1107.3 L1965.3,1110.5 L1964.0,1113.7 L1962.7,1116.8 L1961.4,1119.8 L1960.0,1122.9 L1958.7,1125.8 L1957.3,1128.8 L1956.0,1131.7 L1954.6,1134.5 L1953.2,1137.3 L1951.8,1140.1 L1950.5,1142.8 L1949.1,1145.5 L1947.6,1148.1 L1946.2,1150.6 L1944.8,1153.2 L1943.4,1155.6 L1941.9,1158.1 L1940.5,1160.4 L1939.1,1162.7 L1937.6,1165.0 L1936.2,1167.2 L1934.7,1169.4 L1933.2,1171.5 L1931.8,1173.6 L1930.3,1175.6 L1928.8,1177.5 L1927.3,1179.4 L1925.9,1181.2 L1924.4,1183.0 L1922.9,1184.7 L1921.4,1186.4 L1919.9,1188.0 L1918.4,1189.6 L1916.9,1191.1 L1915.5,1192.5 L1914.0,1193.9 L1912.5,1195.2 L1911.0,1196.4 L1909.5,1197.6 L1908.0,1198.8 L1906.5,1199.8 L1905.1,1200.8 L1903.6,1201.8 L1902.1,1202.7 L1900.7,1203.5 L1899.2,1204.2 L1897.7,1204.9 L1896.3,1205.5 L1894.8,1206.1 L1893.4,1206.6 L1891.9,1207.0 L1890.5,1207.4 L1889.1,1207.7 L1887.7,1207.9 L1886.2,1208.0 L1884.8,1208.1 L1883.4,1208.1 L1882.0,1208.1 L1880.7,1207.9 L1879.3,1207.8 L1877.9,1207.5 L1876.6,1207.1 L1875.2,1206.7 L1873.9,1206.2 L1872.6,1205.7 L1871.2,1205.1 L1869.9,1204.4 L1868.6,1203.6 L1867.3,1202.8 L1866.1,1201.9 L1864.8,1200.9 L1863.5,1199.9 L1862.3,1198.8 L1861.0,1197.7 L1859.8,1196.5 L1858.6,1195.2 L1857.4,1193.9 L1856.2,1192.6 L1855.0,1191.2 L1853.8,1189.7 L1852.6,1188.2 L1851.4,1186.6 L1850.3,1185.0 L1849.1,1183.3 L1848.0,1181.6 L1846.8,1179.9 L1845.7,1178.1 L1844.6,1176.3 L1843.5,1174.4 L1842.4,1172.5 L1841.3,1170.5 L1840.2,1168.5 L1839.1,1166.5 L1838.0,1164.4 L1837.0,1162.3 L1835.9,1160.2 L1834.9,1158.0 L1833.8,1155.9 L1832.8,1153.6 L1831.8,1151.4 L1830.7,1149.1 L1829.7,1146.8 L1828.7,1144.5 L1827.7,1142.2 L1826.7,1139.8 L1825.8,1137.4 L1824.8,1135.1 L1823.8,1132.6 L1822.9,1130.2 L1821.9,1127.8 L1821.0,1125.3 L1820.0,1122.8 L1819.1,1120.4 L1818.2,1117.9 L1817.2,1115.4 L1816.3,1112.9 L1815.4,1110.4 L1814.5,1107.8 L1813.6,1105.3 L1812.7,1102.7 L1811.9,1100.2 L1811.0,1097.6 L1810.1,1095.0 L1809.3,1092.4 L1808.4,1089.8 L1807.6,1087.1 L1806.8,1084.4 L1806.0,1081.8 L1805.2,1079.1 L1804.4,1076.4 L1803.6,1073.6 L1802.8,1070.9 L1802.0,1068.1Z" fill="none" stroke="#2f6bb7" stroke-width="6.1" stroke-linecap="round" stroke-linejoin="round"/>
<ellipse cx="1860.4" cy="408.0" rx="12.0" ry="13.1" fill="#5bbd2b"/>
<ellipse cx="1839.4" cy="456.6" rx="11.6" ry="13.0" fill="#2f4eb0"/>
<ellipse cx="1995.5" cy="311.7" rx="11.8" ry="13.4" fill="#ee1c25"/>
<path d="M1860.4,408.0 L1862.1,404.4 L1863.4,401.6 L1864.8,398.8 L1866.2,396.0 L1867.6,393.3" fill="none" stroke="#3271bd" stroke-width="5.9" stroke-linecap="round" stroke-linejoin="round"/>
<path d="M1839.4,456.6 L1840.7,454.0 L1842.0,450.7 L1843.3,447.4 L1844.6,444.1 L1845.9,440.8" fill="none" stroke="#3271bd" stroke-width="5.9" stroke-linecap="round" stroke-linejoin="round"/>
<path d="M1995.5,311.7 L1997.3,313.4 L1998.6,314.6 L1999.9,315.9 L2001.2,317.2 L2002.5,318.5 L2003.8,320.0 L2005.1,321.4 L2006.4,323.0 L2007.7,324.5" fill="none" stroke="#3271bd" stroke-width="5.9" stroke-linecap="round" stroke-linejoin="round"/>
</g>
<g transform="translate(1880.0,430.0) scale(0.0969)" stroke-linejoin="round" filter="url(#soft2)">
<path d="M140,1075 C160,960 205,770 260,620 C310,490 410,340 500,270 C580,210 680,180 760,178 C860,180 980,205 1100,240 L900,262 C810,310 700,410 640,490 C560,600 480,790 450,900 C430,970 418,1040 410,1095 Z" fill="#4059a8" stroke="#354d9f" stroke-width="20"/>
<path d="M900,262 L1100,240 C1180,270 1250,340 1290,390 C1350,470 1400,590 1430,670 C1460,760 1482,870 1490,945 L1620,965 L1335,1215 L1055,900 L1200,925 C1196,860 1170,740 1140,660 C1110,570 1050,430 1000,360 C970,320 935,285 900,262 Z" fill="#4e71c4" stroke="#3a55a8" stroke-width="20"/>
</g>
</svg>
</body>
</html>
